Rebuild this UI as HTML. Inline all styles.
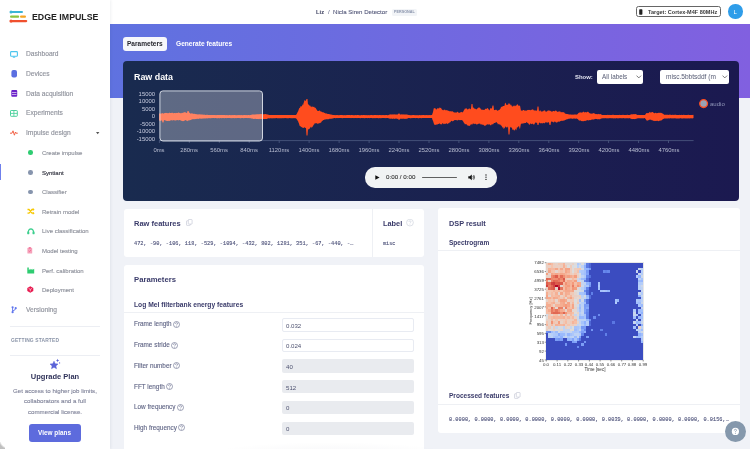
<!DOCTYPE html>
<html><head><meta charset="utf-8">
<style>
*{margin:0;padding:0;box-sizing:border-box}
html,body{width:750px;height:449px;overflow:hidden}
body{position:relative;background:#f0f2f7;font-family:"Liberation Sans",sans-serif;color:#333}
.a{position:absolute}
.t{position:absolute;white-space:nowrap;line-height:1;will-change:transform}
.b{font-weight:bold}
.m{font-family:"Liberation Mono",monospace;-webkit-text-stroke:0.12px #50557c}
#side{left:0;top:0;width:110px;height:449px;background:#fff;box-shadow:0.5px 0 2.5px rgba(40,50,90,0.07);z-index:1}
.nav{font-size:6.65px;color:#90939d;left:26.3px;-webkit-text-stroke:0.15px #90939d}
.sub{font-size:6px;color:#90939d;left:42px;-webkit-text-stroke:0.15px #90939d}
.card{position:absolute;background:#fff;border-radius:3px}
.ttl{font-size:7.5px;color:#3a3b6a;font-weight:bold}
.lbl{font-size:6.38px;color:#5d6283;left:133.9px;-webkit-text-stroke:0.1px #5d6283}
.inp{position:absolute;left:281.8px;width:132.5px;height:13.4px;border-radius:2px;background:#e9ebef}
.inp.w{background:#fff;border:0.7px solid #e8ebf2}
.inp span{position:absolute;left:3.7px;top:3.6px;font-size:5.6px;line-height:1;color:#4a4e66;white-space:nowrap}
.yl{font-size:5.9px;color:#c9cde0;width:30px;text-align:right;left:125px}
.xl{font-size:5.9px;color:#b9bed2;width:40px;text-align:center}
</style></head><body>

<!-- SIDEBAR -->
<div id="side" class="a">
  <svg class="a" style="left:9px;top:10px" width="20" height="14" viewBox="0 0 20 14">
    <rect x="1.5" y="1" width="12.5" height="2" rx="1" fill="#3ab4d6"/>
    <circle cx="2" cy="2" r="1.5" fill="#3ab4d6"/>
    <rect x="1" y="5.6" width="9.2" height="2.2" rx="1.1" fill="#8cc43f"/>
    <rect x="11" y="5.6" width="6" height="2.2" rx="1.1" fill="#f5a623"/>
    <rect x="1.5" y="10" width="16.8" height="2.2" rx="1.1" fill="#f0502e"/>
    <circle cx="2" cy="11.1" r="1.6" fill="#f0502e"/>
  </svg>
  <div class="t b" style="left:32px;top:13px;font-size:8.8px;color:#222">EDGE IMPULSE</div>

  <!-- nav icons -->
  <svg class="a" style="left:10px;top:50.5px" width="8" height="7" viewBox="0 0 8 7"><rect x="0.6" y="0.6" width="6.8" height="4.6" rx="0.8" fill="none" stroke="#4cc5ee" stroke-width="1.1"/><rect x="2.8" y="5.5" width="2.4" height="1.2" fill="#4cc5ee"/></svg>
  <div class="t nav" style="top:51px">Dashboard</div>
  <svg class="a" style="left:11.3px;top:69.7px" width="7" height="8" viewBox="0 0 7 8"><rect x="0.4" y="0" width="5.6" height="7.4" rx="2" fill="#5b6fe1"/></svg>
  <div class="t nav" style="top:71px">Devices</div>
  <svg class="a" style="left:11.3px;top:89.7px" width="7" height="8" viewBox="0 0 7 8"><rect x="0.3" y="0" width="5.9" height="6.8" rx="1" fill="#6b21c9"/><rect x="1" y="2.2" width="4.5" height="0.6" fill="#fff"/><rect x="1" y="4.2" width="4.5" height="0.6" fill="#fff"/></svg>
  <div class="t nav" style="top:91px">Data acquisition</div>
  <svg class="a" style="left:10px;top:109.6px" width="8" height="7" viewBox="0 0 8 7"><rect x="0.5" y="0.5" width="6.8" height="5.8" rx="0.6" fill="none" stroke="#4fd19e" stroke-width="1"/><line x1="3.9" y1="0.5" x2="3.9" y2="6.3" stroke="#4fd19e" stroke-width="0.9"/><line x1="0.5" y1="3.4" x2="7.3" y2="3.4" stroke="#4fd19e" stroke-width="0.9"/></svg>
  <div class="t nav" style="top:110px">Experiments</div>
  <svg class="a" style="left:10px;top:130px" width="8" height="6" viewBox="0 0 8 6"><polyline points="0,3.2 2,3.2 3,0.8 4.4,5.2 5.5,2 6,3.2 7.8,3.2" fill="none" stroke="#f0573a" stroke-width="0.9"/></svg>
  <div class="t nav" style="top:130px">Impulse design</div>
  <svg class="a" style="left:95.5px;top:131.6px" width="4" height="3" viewBox="0 0 4 3"><polygon points="0,0 3.4,0 1.7,2.2" fill="#555"/></svg>

  <!-- sub items -->
  <div class="a" style="left:28px;top:150.1px;width:4.6px;height:4.6px;border-radius:50%;background:#2ecc71"></div>
  <div class="t sub" style="top:150px">Create impulse</div>
  <div class="a" style="left:0;top:164px;width:1.2px;height:16px;background:#6f80ec"></div>
  <div class="a" style="left:28px;top:170px;width:4.6px;height:4.6px;border-radius:50%;background:#8694ad"></div>
  <div class="t sub" style="top:170px;color:#3d3e4a;-webkit-text-stroke:0.2px #3d3e4a">Syntiant</div>
  <div class="a" style="left:28px;top:189.5px;width:4.6px;height:4.6px;border-radius:50%;background:#8694ad"></div>
  <div class="t sub" style="top:189px">Classifier</div>
  <svg class="a" style="left:26.6px;top:208px" width="8" height="7" viewBox="0 0 8 7"><path d="M0.5 1.5 H2 L5 5.2 H6.6 M0.5 5.2 H2 L5 1.5 H6.6" fill="none" stroke="#f7c800" stroke-width="1.3"/><polygon points="5.8,0 7.6,1.5 5.8,3" fill="#f7c800"/><polygon points="5.8,3.7 7.6,5.2 5.8,6.7" fill="#f7c800"/></svg>
  <div class="t sub" style="top:209px">Retrain model</div>
  <svg class="a" style="left:26.6px;top:227.8px" width="8" height="7" viewBox="0 0 8 7"><path d="M1.2 4 Q1.6 1 3.9 0.9 Q6.2 1 6.6 4" fill="none" stroke="#3ccf8e" stroke-width="1.1"/><rect x="0.2" y="3.6" width="2.1" height="2.6" rx="0.4" fill="#3ccf8e"/><rect x="5.5" y="3.6" width="2.1" height="2.6" rx="0.4" fill="#3ccf8e"/></svg>
  <div class="t sub" style="top:228px">Live classification</div>
  <svg class="a" style="left:26.5px;top:247px" width="6" height="7" viewBox="0 0 6 7"><rect x="0.4" y="0.8" width="4.8" height="5.8" rx="0.6" fill="#f6a3bb"/><rect x="1.7" y="0.2" width="2.2" height="1.2" rx="0.3" fill="#ef5d8a"/><path d="M1.6 3.8 L2.5 4.7 L4.1 2.9" fill="none" stroke="#ef4f7f" stroke-width="0.6"/></svg>
  <div class="t sub" style="top:248px">Model testing</div>
  <svg class="a" style="left:26.8px;top:267px" width="8" height="7" viewBox="0 0 8 7"><path d="M0.3 6.6 V0.6 H1.8 V3 L3.6 1.8 V3 L5.4 1.8 V3 L7.2 1.8 V6.6 Z" fill="#2ecc71"/></svg>
  <div class="t sub" style="top:268px">Perf. calibration</div>
  <svg class="a" style="left:26.6px;top:286.4px" width="7" height="7" viewBox="0 0 7 7"><polygon points="3.3,0.2 6.3,1.9 6.3,5.1 3.3,6.8 0.3,5.1 0.3,1.9" fill="#e8194f"/><path d="M1.6 2.4 L3.3 3.4 L5 2.4 M3.3 3.4 V5.4" fill="none" stroke="#fff" stroke-width="0.6"/></svg>
  <div class="t sub" style="top:287px">Deployment</div>
  <svg class="a" style="left:10.5px;top:305.6px" width="7" height="8" viewBox="0 0 7 8"><circle cx="1.6" cy="1.3" r="1.1" fill="#6278ee"/><circle cx="1.6" cy="6.2" r="1.1" fill="#6278ee"/><circle cx="4.7" cy="2.2" r="1.1" fill="#6278ee"/><path d="M1.6 1.3 V6.2 M4.7 2.2 Q4.6 4.2 1.6 5" fill="none" stroke="#6278ee" stroke-width="0.95"/></svg>
  <div class="t nav" style="top:307px">Versioning</div>

  <div class="a" style="left:10px;top:326px;width:90px;height:0.7px;background:#eceef3"></div>
  <div class="t b" style="left:10.6px;top:339px;font-size:4.9px;color:#8a94a8;letter-spacing:0.15px">GETTING STARTED</div>
  <div class="a" style="left:10px;top:354.7px;width:90px;height:0.7px;background:#eceef3"></div>
  <svg class="a" style="left:48.5px;top:358px" width="12" height="12" viewBox="0 0 12 12"><polygon points="5,3.2 6.2,5.8 9,6 6.9,7.9 7.5,10.7 5,9.3 2.5,10.7 3.1,7.9 1,6 3.8,5.8" fill="#5b63d8" stroke="#5b63d8" stroke-width="0.5" stroke-linejoin="round"/><path d="M8.6 0.8 L9.1 2 L10.3 2.5 L9.1 3 L8.6 4.2 L8.1 3 L6.9 2.5 L8.1 2 Z" fill="#5b63d8"/><circle cx="10.6" cy="4.9" r="0.6" fill="#5b63d8"/></svg>
  <div class="t b" style="left:0;width:110px;text-align:center;top:373px;font-size:7.5px;color:#30335a">Upgrade Plan</div>
  <div class="t" style="left:0;width:110px;text-align:center;top:388px;font-size:6.17px;color:#80849a;-webkit-text-stroke:0.12px #80849a">Get access to higher job limits,</div>
  <div class="t" style="left:0;width:110px;text-align:center;top:398px;font-size:6.17px;color:#80849a;-webkit-text-stroke:0.12px #80849a">collaborators and a full</div>
  <div class="t" style="left:0;width:110px;text-align:center;top:409px;font-size:6.17px;color:#80849a;-webkit-text-stroke:0.12px #80849a">commercial license.</div>
  <div class="a" style="left:29.3px;top:423.6px;width:51.3px;height:18.5px;border-radius:3px;background:#5d6bdd"></div>
  <div class="t b" style="left:29.3px;width:51.1px;text-align:center;top:430px;font-size:6.4px;color:#fff">View plans</div>
</div>

<!-- HEADER -->
<div class="a" style="left:110px;top:0;width:640px;height:24px;background:#fff"></div>
<div class="t b" style="left:316px;top:10px;font-size:5.8px;color:#3b3e5e">Liz</div>
<div class="t" style="left:327.8px;top:9px;font-size:6px;color:#55597a">/</div>
<div class="t" style="left:333.3px;top:9px;font-size:6.1px;color:#55597a;-webkit-text-stroke:0.1px #55597a">Nicla Siren Detector</div>
<div class="a" style="left:391.9px;top:8.7px;width:25.1px;height:7.3px;background:#f2f4f7;border-radius:1.5px"></div>
<div class="t b" style="left:394px;top:11px;font-size:3.72px;color:#8993ab">PERSONAL</div>
<div class="a" style="left:635.6px;top:5.8px;width:85.8px;height:11.7px;border:0.7px solid #666;border-radius:2.5px;background:#fff"></div>
<svg class="a" style="left:639.4px;top:8.8px" width="4" height="6" viewBox="0 0 4 6"><rect x="0.2" y="0.3" width="3.2" height="5.4" rx="0.6" fill="#222"/></svg>
<div class="t b" style="left:648px;top:10px;font-size:5.53px;color:#3a3a3a">Target: Cortex-M4F 80MHz</div>
<div class="a" style="left:728.4px;top:4.3px;width:14.4px;height:14.4px;border-radius:50%;background:#2f9de9"></div>
<div class="t" style="left:728.4px;width:14.4px;text-align:center;top:9px;font-size:6px;color:#fff">L</div>

<!-- BAND -->
<div class="a" style="left:110px;top:24px;width:640px;height:74px;background:linear-gradient(90deg,#5f72e0,#8160e0)"></div>
<div class="a" style="left:122.9px;top:36.9px;width:44px;height:13.9px;border-radius:3px;background:#f6f7fb"></div>
<div class="t b" style="left:127px;top:41px;font-size:6.55px;color:#25262e">Parameters</div>
<div class="t b" style="left:175.7px;top:41px;font-size:6.6px;color:#fff">Generate features</div>

<!-- RAW DATA CARD -->
<div class="a" style="left:123px;top:61px;width:616px;height:140px;border-radius:4px;background:linear-gradient(90deg,#192b4f,#1b1950)"></div>
<div class="t b" style="left:134px;top:73px;font-size:8.9px;color:#fff">Raw data</div>
<div class="t b" style="left:575.1px;top:75px;font-size:5.93px;color:#e2e4f0">Show:</div>
<div class="a" style="left:596.7px;top:70.4px;width:46.1px;height:13.2px;border-radius:2px;background:#fff"></div>
<div class="t" style="left:602px;top:74px;font-size:6.3px;color:#555a72">All labels</div>
<svg class="a" style="left:635.5px;top:75px" width="6" height="4" viewBox="0 0 6 4"><polyline points="0.5,0.6 2.8,2.9 5.1,0.6" fill="none" stroke="#444" stroke-width="0.7"/></svg>
<div class="a" style="left:660.3px;top:70.4px;width:68.4px;height:13.2px;border-radius:2px;background:#fff"></div>
<div class="t" style="left:665.6px;top:74px;font-size:6.55px;color:#555a72">misc.5bbtsddf (m</div>
<svg class="a" style="left:721.5px;top:75px" width="6" height="4" viewBox="0 0 6 4"><polyline points="0.5,0.6 2.8,2.9 5.1,0.6" fill="none" stroke="#444" stroke-width="0.7"/></svg>

<!-- chart -->
<svg class="a" style="left:0;top:0" width="750" height="449" viewBox="0 0 750 449">
<line x1="159" y1="140.6" x2="693.6" y2="140.6" stroke="#56648a" stroke-width="0.7"/>
<line x1="159.4" y1="140.6" x2="159.4" y2="143" stroke="#56648a" stroke-width="0.7"/>
<line x1="189.3" y1="140.6" x2="189.3" y2="143" stroke="#56648a" stroke-width="0.7"/>
<line x1="219.3" y1="140.6" x2="219.3" y2="143" stroke="#56648a" stroke-width="0.7"/>
<line x1="249.2" y1="140.6" x2="249.2" y2="143" stroke="#56648a" stroke-width="0.7"/>
<line x1="279.2" y1="140.6" x2="279.2" y2="143" stroke="#56648a" stroke-width="0.7"/>
<line x1="309.1" y1="140.6" x2="309.1" y2="143" stroke="#56648a" stroke-width="0.7"/>
<line x1="339.1" y1="140.6" x2="339.1" y2="143" stroke="#56648a" stroke-width="0.7"/>
<line x1="369.1" y1="140.6" x2="369.1" y2="143" stroke="#56648a" stroke-width="0.7"/>
<line x1="399.0" y1="140.6" x2="399.0" y2="143" stroke="#56648a" stroke-width="0.7"/>
<line x1="429.0" y1="140.6" x2="429.0" y2="143" stroke="#56648a" stroke-width="0.7"/>
<line x1="458.9" y1="140.6" x2="458.9" y2="143" stroke="#56648a" stroke-width="0.7"/>
<line x1="488.9" y1="140.6" x2="488.9" y2="143" stroke="#56648a" stroke-width="0.7"/>
<line x1="518.8" y1="140.6" x2="518.8" y2="143" stroke="#56648a" stroke-width="0.7"/>
<line x1="548.8" y1="140.6" x2="548.8" y2="143" stroke="#56648a" stroke-width="0.7"/>
<line x1="578.7" y1="140.6" x2="578.7" y2="143" stroke="#56648a" stroke-width="0.7"/>
<line x1="608.6" y1="140.6" x2="608.6" y2="143" stroke="#56648a" stroke-width="0.7"/>
<line x1="638.6" y1="140.6" x2="638.6" y2="143" stroke="#56648a" stroke-width="0.7"/>
<line x1="668.5" y1="140.6" x2="668.5" y2="143" stroke="#56648a" stroke-width="0.7"/>
<path d="M159.0 113.3 L159.5 113.5 L160.0 113.7 L160.5 113.5 L161.0 113.6 L161.5 113.4 L162.0 113.3 L162.5 113.3 L163.0 113.1 L163.5 113.7 L164.0 113.6 L164.5 113.0 L165.0 113.1 L165.5 112.9 L166.0 112.8 L166.5 112.9 L167.0 112.9 L167.5 113.2 L168.0 113.1 L168.5 113.3 L169.0 113.1 L169.5 112.6 L170.0 112.9 L170.5 113.0 L171.0 113.0 L171.5 112.7 L172.0 112.9 L172.5 112.5 L173.0 113.2 L173.5 113.3 L174.0 112.9 L174.5 112.9 L175.0 113.0 L175.5 113.3 L176.0 112.8 L176.5 112.9 L177.0 113.0 L177.5 112.9 L178.0 112.7 L178.5 112.2 L179.0 113.0 L179.5 112.8 L180.0 113.3 L180.5 113.0 L181.0 113.4 L181.5 113.1 L182.0 112.8 L182.5 113.0 L183.0 112.7 L183.5 112.6 L184.0 112.5 L184.5 112.3 L185.0 112.1 L185.5 112.6 L186.0 112.5 L186.5 113.1 L187.0 112.9 L187.5 111.0 L188.0 111.0 L188.5 111.0 L189.0 112.1 L189.5 112.9 L190.0 113.1 L190.5 113.7 L191.0 113.4 L191.5 113.5 L192.0 113.0 L192.5 113.7 L193.0 113.6 L193.5 113.9 L194.0 113.8 L194.5 113.8 L195.0 113.9 L195.5 114.0 L196.0 114.2 L196.5 114.1 L197.0 114.4 L197.5 114.3 L198.0 114.5 L198.5 114.3 L199.0 114.6 L199.5 114.3 L200.0 114.3 L200.5 114.5 L201.0 114.5 L201.5 114.6 L202.0 114.6 L202.5 114.6 L203.0 114.8 L203.5 114.7 L204.0 114.6 L204.5 114.7 L205.0 114.8 L205.5 114.9 L206.0 114.9 L206.5 114.8 L207.0 114.8 L207.5 114.8 L208.0 114.9 L208.5 114.9 L209.0 114.9 L209.5 114.9 L210.0 115.0 L210.5 115.1 L211.0 115.0 L211.5 114.9 L212.0 115.0 L212.5 115.1 L213.0 115.0 L213.5 114.9 L214.0 115.0 L214.5 115.0 L215.0 115.1 L215.5 115.0 L216.0 115.2 L216.5 115.1 L217.0 115.0 L217.5 115.1 L218.0 115.1 L218.5 115.0 L219.0 115.0 L219.5 115.0 L220.0 115.1 L220.5 115.0 L221.0 115.0 L221.5 114.9 L222.0 115.1 L222.5 115.1 L223.0 115.0 L223.5 115.0 L224.0 115.0 L224.5 115.0 L225.0 115.1 L225.5 115.2 L226.0 115.0 L226.5 115.1 L227.0 115.2 L227.5 115.0 L228.0 115.2 L228.5 115.2 L229.0 115.1 L229.5 115.1 L230.0 115.0 L230.5 115.2 L231.0 115.1 L231.5 115.2 L232.0 115.0 L232.5 115.1 L233.0 115.2 L233.5 115.1 L234.0 115.0 L234.5 115.0 L235.0 115.1 L235.5 115.2 L236.0 115.1 L236.5 115.2 L237.0 115.2 L237.5 115.0 L238.0 115.2 L238.5 115.1 L239.0 115.0 L239.5 115.1 L240.0 115.2 L240.5 115.0 L241.0 115.2 L241.5 115.0 L242.0 115.0 L242.5 115.2 L243.0 115.2 L243.5 115.1 L244.0 115.1 L244.5 115.1 L245.0 115.1 L245.5 115.0 L246.0 115.2 L246.5 115.0 L247.0 115.0 L247.5 115.2 L248.0 115.1 L248.5 115.1 L249.0 115.0 L249.5 115.2 L250.0 115.1 L250.5 115.0 L251.0 114.9 L251.5 114.7 L252.0 114.6 L252.5 114.5 L253.0 114.5 L253.5 114.5 L254.0 114.5 L254.5 114.5 L255.0 114.4 L255.5 114.5 L256.0 114.2 L256.5 114.2 L257.0 114.4 L257.5 114.3 L258.0 114.1 L258.5 114.4 L259.0 114.0 L259.5 114.3 L260.0 114.3 L260.5 114.0 L261.0 114.1 L261.5 114.1 L262.0 114.3 L262.5 114.0 L263.0 114.2 L263.5 114.3 L264.0 114.2 L264.5 114.2 L265.0 113.9 L265.5 114.0 L266.0 114.3 L266.5 114.3 L267.0 114.4 L267.5 114.5 L268.0 114.5 L268.5 114.7 L269.0 115.1 L269.5 114.9 L270.0 115.1 L270.5 114.9 L271.0 115.0 L271.5 115.0 L272.0 115.0 L272.5 115.0 L273.0 114.9 L273.5 115.1 L274.0 115.1 L274.5 114.9 L275.0 114.9 L275.5 115.0 L276.0 114.9 L276.5 114.9 L277.0 115.0 L277.5 114.9 L278.0 115.0 L278.5 115.0 L279.0 115.0 L279.5 114.9 L280.0 115.0 L280.5 115.1 L281.0 114.9 L281.5 115.1 L282.0 114.9 L282.5 115.1 L283.0 114.9 L283.5 115.1 L284.0 114.9 L284.5 115.1 L285.0 115.1 L285.5 115.0 L286.0 115.0 L286.5 114.9 L287.0 115.1 L287.5 115.1 L288.0 114.9 L288.5 114.9 L289.0 115.1 L289.5 115.1 L290.0 115.0 L290.5 115.0 L291.0 115.0 L291.5 115.0 L292.0 115.1 L292.5 115.0 L293.0 114.9 L293.5 115.0 L294.0 115.0 L294.5 115.0 L295.0 115.0 L295.5 114.9 L296.0 115.0 L296.5 114.3 L297.0 113.5 L297.5 112.2 L298.0 111.5 L298.5 110.2 L299.0 108.8 L299.5 107.8 L300.0 107.9 L300.5 106.3 L301.0 106.2 L301.5 106.6 L302.0 106.0 L302.5 103.9 L303.0 105.4 L303.5 103.3 L304.0 102.1 L304.5 99.9 L305.0 100.6 L305.5 101.0 L306.0 100.2 L306.5 99.1 L307.0 99.1 L307.5 99.1 L308.0 104.5 L308.5 104.2 L309.0 105.0 L309.5 105.9 L310.0 105.0 L310.5 106.6 L311.0 106.5 L311.5 107.2 L312.0 106.1 L312.5 106.7 L313.0 107.1 L313.5 107.0 L314.0 106.5 L314.5 107.5 L315.0 107.7 L315.5 107.8 L316.0 108.4 L316.5 109.6 L317.0 110.0 L317.5 110.9 L318.0 111.0 L318.5 110.9 L319.0 110.7 L319.5 110.4 L320.0 110.5 L320.5 111.7 L321.0 111.1 L321.5 112.0 L322.0 111.7 L322.5 112.4 L323.0 112.0 L323.5 112.6 L324.0 112.6 L324.5 112.9 L325.0 112.9 L325.5 113.6 L326.0 113.4 L326.5 113.6 L327.0 113.6 L327.5 114.0 L328.0 113.9 L328.5 114.0 L329.0 114.1 L329.5 114.3 L330.0 114.3 L330.5 114.4 L331.0 114.5 L331.5 114.6 L332.0 114.9 L332.5 114.8 L333.0 114.9 L333.5 115.0 L334.0 115.0 L334.5 115.1 L335.0 115.2 L335.5 115.1 L336.0 115.2 L336.5 115.1 L337.0 115.0 L337.5 115.1 L338.0 115.2 L338.5 115.2 L339.0 115.1 L339.5 115.2 L340.0 115.1 L340.5 115.0 L341.0 115.0 L341.5 115.1 L342.0 115.1 L342.5 115.1 L343.0 115.2 L343.5 115.2 L344.0 115.1 L344.5 115.2 L345.0 115.0 L345.5 115.2 L346.0 115.2 L346.5 115.0 L347.0 115.1 L347.5 115.0 L348.0 115.1 L348.5 115.1 L349.0 115.1 L349.5 115.1 L350.0 115.1 L350.5 115.2 L351.0 115.1 L351.5 115.1 L352.0 115.0 L352.5 115.1 L353.0 115.2 L353.5 115.2 L354.0 115.1 L354.5 115.2 L355.0 115.2 L355.5 115.0 L356.0 115.0 L356.5 115.2 L357.0 115.1 L357.5 115.0 L358.0 115.1 L358.5 115.1 L359.0 115.2 L359.5 115.2 L360.0 115.2 L360.5 115.2 L361.0 115.2 L361.5 115.1 L362.0 115.1 L362.5 115.2 L363.0 115.1 L363.5 115.1 L364.0 115.1 L364.5 115.1 L365.0 115.2 L365.5 115.1 L366.0 115.2 L366.5 115.0 L367.0 115.2 L367.5 115.2 L368.0 115.1 L368.5 115.2 L369.0 115.1 L369.5 115.2 L370.0 115.2 L370.5 115.1 L371.0 115.1 L371.5 115.0 L372.0 115.1 L372.5 115.2 L373.0 115.1 L373.5 115.2 L374.0 115.0 L374.5 115.1 L375.0 115.1 L375.5 115.1 L376.0 115.1 L376.5 115.0 L377.0 115.2 L377.5 115.1 L378.0 115.0 L378.5 115.2 L379.0 115.0 L379.5 115.1 L380.0 115.0 L380.5 115.1 L381.0 115.2 L381.5 115.1 L382.0 115.2 L382.5 115.0 L383.0 115.1 L383.5 115.1 L384.0 115.2 L384.5 115.1 L385.0 115.2 L385.5 115.1 L386.0 115.1 L386.5 115.0 L387.0 115.1 L387.5 115.2 L388.0 115.2 L388.5 115.0 L389.0 114.8 L389.5 114.7 L390.0 114.3 L390.5 114.6 L391.0 114.4 L391.5 114.4 L392.0 114.5 L392.5 114.6 L393.0 114.3 L393.5 114.4 L394.0 114.4 L394.5 114.3 L395.0 114.4 L395.5 114.6 L396.0 114.6 L396.5 114.6 L397.0 114.5 L397.5 114.5 L398.0 114.3 L398.5 113.4 L399.0 113.4 L399.5 113.4 L400.0 114.4 L400.5 114.4 L401.0 114.5 L401.5 114.3 L402.0 114.6 L402.5 114.6 L403.0 114.3 L403.5 114.4 L404.0 114.4 L404.5 114.4 L405.0 114.6 L405.5 114.4 L406.0 114.4 L406.5 114.4 L407.0 114.6 L407.5 114.7 L408.0 114.8 L408.5 115.0 L409.0 115.1 L409.5 115.1 L410.0 115.2 L410.5 115.2 L411.0 115.0 L411.5 115.2 L412.0 115.2 L412.5 115.0 L413.0 115.1 L413.5 115.0 L414.0 115.1 L414.5 115.2 L415.0 115.1 L415.5 115.2 L416.0 115.2 L416.5 115.2 L417.0 115.0 L417.5 115.2 L418.0 115.2 L418.5 115.2 L419.0 115.2 L419.5 115.1 L420.0 115.1 L420.5 115.2 L421.0 115.2 L421.5 115.0 L422.0 115.2 L422.5 115.0 L423.0 115.1 L423.5 115.0 L424.0 115.0 L424.5 115.2 L425.0 115.0 L425.5 115.2 L426.0 115.0 L426.5 115.1 L427.0 115.2 L427.5 115.1 L428.0 115.2 L428.5 115.1 L429.0 115.2 L429.5 115.1 L430.0 115.0 L430.5 115.2 L431.0 115.1 L431.5 115.1 L432.0 115.0 L432.5 113.5 L433.0 112.0 L433.5 109.6 L434.0 107.7 L434.5 108.6 L435.0 108.1 L435.5 108.5 L436.0 109.5 L436.5 109.2 L437.0 109.3 L437.5 107.9 L438.0 108.3 L438.5 108.2 L439.0 108.7 L439.5 107.2 L440.0 108.0 L440.5 108.0 L441.0 107.4 L441.5 109.1 L442.0 109.4 L442.5 110.2 L443.0 109.4 L443.5 110.4 L444.0 109.8 L444.5 109.7 L445.0 109.5 L445.5 110.5 L446.0 110.0 L446.5 110.3 L447.0 110.2 L447.5 110.3 L448.0 111.1 L448.5 110.8 L449.0 110.8 L449.5 111.4 L450.0 111.1 L450.5 111.5 L451.0 111.1 L451.5 111.6 L452.0 111.5 L452.5 111.3 L453.0 111.4 L453.5 112.4 L454.0 111.8 L454.5 112.7 L455.0 112.4 L455.5 112.4 L456.0 112.4 L456.5 112.7 L457.0 111.8 L457.5 111.8 L458.0 112.2 L458.5 112.5 L459.0 113.0 L459.5 112.7 L460.0 112.5 L460.5 112.2 L461.0 112.2 L461.5 111.7 L462.0 112.2 L462.5 112.4 L463.0 111.7 L463.5 111.3 L464.0 109.9 L464.5 109.5 L465.0 108.2 L465.5 108.4 L466.0 109.0 L466.5 108.1 L467.0 108.8 L467.5 109.5 L468.0 109.4 L468.5 108.7 L469.0 108.7 L469.5 108.4 L470.0 108.5 L470.5 109.4 L471.0 108.6 L471.5 104.1 L472.0 104.1 L472.5 104.1 L473.0 108.4 L473.5 107.1 L474.0 108.4 L474.5 108.2 L475.0 109.2 L475.5 108.4 L476.0 109.6 L476.5 109.3 L477.0 109.0 L477.5 108.2 L478.0 107.9 L478.5 107.4 L479.0 107.6 L479.5 107.6 L480.0 107.9 L480.5 108.5 L481.0 109.4 L481.5 109.7 L482.0 109.5 L482.5 109.8 L483.0 110.0 L483.5 109.7 L484.0 110.1 L484.5 110.1 L485.0 109.0 L485.5 108.8 L486.0 108.7 L486.5 108.9 L487.0 108.3 L487.5 107.9 L488.0 108.6 L488.5 109.0 L489.0 110.2 L489.5 110.2 L490.0 109.0 L490.5 107.9 L491.0 108.4 L491.5 108.4 L492.0 108.0 L492.5 105.6 L493.0 105.6 L493.5 105.6 L494.0 110.2 L494.5 110.1 L495.0 110.1 L495.5 109.6 L496.0 110.2 L496.5 109.5 L497.0 110.4 L497.5 110.9 L498.0 110.1 L498.5 110.5 L499.0 109.9 L499.5 109.9 L500.0 108.8 L500.5 108.7 L501.0 106.8 L501.5 107.3 L502.0 106.3 L502.5 106.7 L503.0 105.9 L503.5 106.0 L504.0 106.0 L504.5 105.8 L505.0 102.9 L505.5 102.8 L506.0 103.9 L506.5 105.0 L507.0 105.0 L507.5 104.4 L508.0 104.9 L508.5 102.8 L509.0 104.5 L509.5 103.5 L510.0 103.4 L510.5 105.4 L511.0 104.6 L511.5 105.5 L512.0 106.6 L512.5 106.7 L513.0 105.6 L513.5 105.8 L514.0 106.6 L514.5 105.5 L515.0 105.8 L515.5 106.3 L516.0 104.9 L516.5 105.8 L517.0 104.3 L517.5 104.3 L518.0 105.0 L518.5 105.9 L519.0 105.3 L519.5 106.0 L520.0 105.4 L520.5 108.2 L521.0 110.8 L521.5 110.3 L522.0 111.0 L522.5 110.5 L523.0 110.1 L523.5 110.0 L524.0 110.0 L524.5 110.6 L525.0 110.9 L525.5 110.3 L526.0 110.8 L526.5 110.8 L527.0 109.9 L527.5 110.3 L528.0 109.7 L528.5 110.1 L529.0 109.9 L529.5 109.9 L530.0 109.8 L530.5 110.2 L531.0 110.2 L531.5 109.6 L532.0 110.0 L532.5 109.3 L533.0 109.2 L533.5 110.0 L534.0 110.6 L534.5 110.4 L535.0 110.2 L535.5 110.4 L536.0 110.7 L536.5 110.5 L537.0 110.8 L537.5 106.6 L538.0 106.6 L538.5 106.6 L539.0 111.5 L539.5 111.1 L540.0 110.2 L540.5 110.4 L541.0 111.4 L541.5 111.7 L542.0 111.1 L542.5 111.5 L543.0 111.4 L543.5 110.7 L544.0 110.5 L544.5 110.6 L545.0 110.3 L545.5 111.5 L546.0 111.7 L546.5 111.4 L547.0 111.6 L547.5 110.8 L548.0 110.4 L548.5 110.4 L549.0 110.6 L549.5 110.8 L550.0 110.4 L550.5 111.2 L551.0 110.7 L551.5 111.7 L552.0 111.8 L552.5 111.6 L553.0 111.0 L553.5 111.0 L554.0 110.9 L554.5 111.4 L555.0 110.7 L555.5 110.6 L556.0 110.7 L556.5 110.7 L557.0 111.7 L557.5 111.7 L558.0 111.7 L558.5 111.6 L559.0 111.4 L559.5 111.6 L560.0 111.2 L560.5 111.8 L561.0 112.4 L561.5 112.1 L562.0 112.2 L562.5 112.1 L563.0 112.5 L563.5 112.3 L564.0 112.1 L564.5 113.0 L565.0 113.5 L565.5 113.7 L566.0 113.8 L566.5 114.1 L567.0 114.0 L567.5 114.0 L568.0 114.3 L568.5 114.3 L569.0 114.5 L569.5 114.6 L570.0 114.6 L570.5 114.6 L571.0 114.6 L571.5 114.7 L572.0 114.4 L572.5 114.7 L573.0 114.4 L573.5 114.7 L574.0 114.6 L574.5 114.6 L575.0 114.4 L575.5 114.5 L576.0 114.5 L576.5 114.6 L577.0 114.7 L577.5 113.9 L578.0 113.7 L578.5 112.8 L579.0 112.9 L579.5 112.3 L580.0 112.7 L580.5 112.2 L581.0 112.6 L581.5 112.6 L582.0 112.8 L582.5 112.3 L583.0 111.9 L583.5 111.6 L584.0 112.1 L584.5 112.5 L585.0 112.2 L585.5 112.1 L586.0 112.2 L586.5 112.4 L587.0 112.1 L587.5 111.8 L588.0 111.7 L588.5 112.0 L589.0 112.7 L589.5 113.1 L590.0 113.4 L590.5 113.4 L591.0 113.4 L591.5 113.7 L592.0 113.4 L592.5 113.5 L593.0 113.5 L593.5 113.1 L594.0 113.3 L594.5 113.4 L595.0 113.7 L595.5 114.0 L596.0 114.2 L596.5 113.9 L597.0 114.1 L597.5 114.2 L598.0 114.2 L598.5 113.8 L599.0 114.2 L599.5 114.2 L600.0 113.9 L600.5 114.1 L601.0 114.5 L601.5 114.5 L602.0 115.0 L602.5 115.0 L603.0 114.9 L603.5 114.9 L604.0 115.0 L604.5 115.0 L605.0 114.9 L605.5 115.0 L606.0 115.0 L606.5 114.9 L607.0 114.9 L607.5 114.8 L608.0 115.0 L608.5 115.0 L609.0 114.8 L609.5 114.9 L610.0 114.9 L610.5 115.0 L611.0 115.1 L611.5 115.0 L612.0 114.9 L612.5 114.8 L613.0 114.8 L613.5 114.8 L614.0 115.0 L614.5 115.0 L615.0 114.9 L615.5 115.0 L616.0 114.9 L616.5 114.9 L617.0 114.9 L617.5 114.9 L618.0 115.0 L618.5 114.9 L619.0 115.0 L619.5 114.8 L620.0 115.0 L620.5 115.0 L621.0 115.0 L621.5 115.0 L622.0 115.0 L622.5 114.8 L623.0 114.9 L623.5 114.8 L624.0 115.0 L624.5 114.9 L625.0 114.9 L625.5 115.0 L626.0 114.9 L626.5 114.9 L627.0 114.8 L627.5 114.8 L628.0 115.0 L628.5 115.0 L629.0 114.9 L629.5 115.0 L630.0 114.9 L630.5 114.6 L631.0 114.4 L631.5 114.3 L632.0 114.2 L632.5 114.4 L633.0 114.1 L633.5 114.3 L634.0 114.3 L634.5 114.2 L635.0 114.0 L635.5 114.2 L636.0 114.0 L636.5 114.5 L637.0 115.0 L637.5 114.9 L638.0 114.8 L638.5 115.0 L639.0 114.9 L639.5 114.9 L640.0 114.9 L640.5 115.1 L641.0 115.0 L641.5 114.9 L642.0 115.0 L642.5 115.0 L643.0 115.1 L643.5 114.9 L644.0 114.9 L644.5 115.0 L645.0 115.0 L645.5 114.3 L646.0 113.6 L646.5 113.0 L647.0 113.2 L647.5 113.0 L648.0 113.3 L648.5 112.9 L649.0 112.8 L649.5 111.8 L650.0 112.4 L650.5 112.6 L651.0 112.2 L651.5 112.4 L652.0 112.1 L652.5 112.0 L653.0 112.3 L653.5 112.8 L654.0 113.0 L654.5 113.2 L655.0 113.3 L655.5 112.8 L656.0 112.8 L656.5 113.3 L657.0 113.2 L657.5 112.9 L658.0 113.0 L658.5 112.7 L659.0 112.7 L659.5 112.7 L660.0 113.0 L660.5 112.8 L661.0 112.8 L661.5 113.1 L662.0 113.2 L662.5 113.6 L663.0 113.7 L663.5 114.1 L664.0 114.7 L664.5 114.7 L665.0 114.7 L665.5 114.7 L666.0 114.7 L666.5 114.7 L667.0 114.7 L667.5 114.8 L668.0 114.8 L668.5 114.9 L669.0 114.8 L669.5 114.7 L670.0 114.6 L670.5 114.7 L671.0 114.9 L671.5 114.9 L672.0 114.8 L672.5 114.7 L673.0 114.9 L673.5 114.7 L674.0 114.9 L674.5 114.7 L675.0 114.7 L675.5 114.8 L676.0 114.7 L676.5 114.9 L677.0 114.9 L677.5 115.0 L678.0 114.9 L678.5 115.0 L679.0 114.9 L679.5 114.7 L680.0 114.9 L680.5 114.9 L681.0 114.9 L681.5 114.8 L682.0 114.9 L682.5 114.9 L683.0 115.0 L683.5 114.8 L684.0 114.8 L684.5 114.9 L685.0 114.9 L685.5 115.0 L686.0 114.9 L686.5 114.9 L687.0 115.0 L687.5 114.9 L688.0 114.8 L688.5 114.8 L689.0 115.0 L689.5 115.0 L690.0 115.0 L690.5 115.0 L691.0 115.0 L691.5 114.9 L692.0 115.0 L692.5 114.9 L693.0 114.8 L693.5 115.0 L693.5 118.3 L693.0 118.1 L692.5 118.4 L692.0 118.4 L691.5 118.2 L691.0 118.2 L690.5 118.3 L690.0 118.4 L689.5 118.4 L689.0 118.2 L688.5 118.4 L688.0 118.2 L687.5 118.4 L687.0 118.4 L686.5 118.4 L686.0 118.3 L685.5 118.4 L685.0 118.4 L684.5 118.3 L684.0 118.4 L683.5 118.3 L683.0 118.4 L682.5 118.4 L682.0 118.5 L681.5 118.4 L681.0 118.3 L680.5 118.3 L680.0 118.3 L679.5 118.4 L679.0 118.5 L678.5 118.4 L678.0 118.5 L677.5 118.4 L677.0 118.4 L676.5 118.5 L676.0 118.4 L675.5 118.3 L675.0 118.4 L674.5 118.3 L674.0 118.3 L673.5 118.5 L673.0 118.3 L672.5 118.4 L672.0 118.3 L671.5 118.4 L671.0 118.3 L670.5 118.3 L670.0 118.3 L669.5 118.4 L669.0 118.5 L668.5 118.3 L668.0 118.6 L667.5 118.4 L667.0 118.6 L666.5 118.4 L666.0 118.5 L665.5 118.4 L665.0 118.4 L664.5 118.5 L664.0 118.5 L663.5 119.0 L663.0 119.0 L662.5 119.5 L662.0 119.9 L661.5 120.4 L661.0 120.2 L660.5 120.8 L660.0 120.6 L659.5 120.8 L659.0 121.1 L658.5 121.2 L658.0 120.9 L657.5 120.7 L657.0 120.7 L656.5 121.0 L656.0 120.7 L655.5 121.1 L655.0 121.0 L654.5 120.7 L654.0 121.3 L653.5 120.4 L653.0 120.9 L652.5 120.1 L652.0 120.5 L651.5 119.9 L651.0 119.8 L650.5 119.8 L650.0 119.6 L649.5 119.8 L649.0 120.0 L648.5 120.2 L648.0 120.2 L647.5 120.7 L647.0 120.5 L646.5 120.5 L646.0 119.5 L645.5 118.9 L645.0 118.2 L644.5 118.1 L644.0 118.2 L643.5 118.3 L643.0 118.4 L642.5 118.2 L642.0 118.2 L641.5 118.2 L641.0 118.4 L640.5 118.2 L640.0 118.2 L639.5 118.2 L639.0 118.3 L638.5 118.3 L638.0 118.3 L637.5 118.4 L637.0 118.2 L636.5 118.7 L636.0 119.1 L635.5 119.1 L635.0 118.8 L634.5 119.2 L634.0 119.0 L633.5 119.0 L633.0 118.9 L632.5 118.9 L632.0 119.2 L631.5 118.8 L631.0 119.0 L630.5 118.6 L630.0 118.3 L629.5 118.2 L629.0 118.1 L628.5 118.4 L628.0 118.2 L627.5 118.3 L627.0 118.2 L626.5 118.2 L626.0 118.2 L625.5 118.4 L625.0 118.1 L624.5 118.4 L624.0 118.2 L623.5 118.1 L623.0 118.3 L622.5 118.3 L622.0 118.2 L621.5 118.3 L621.0 118.3 L620.5 118.3 L620.0 118.1 L619.5 118.3 L619.0 118.3 L618.5 118.2 L618.0 118.4 L617.5 118.3 L617.0 118.2 L616.5 118.1 L616.0 118.4 L615.5 118.2 L615.0 118.4 L614.5 118.3 L614.0 118.3 L613.5 118.4 L613.0 118.3 L612.5 118.3 L612.0 118.2 L611.5 118.2 L611.0 118.3 L610.5 118.2 L610.0 118.1 L609.5 118.2 L609.0 118.3 L608.5 118.2 L608.0 118.4 L607.5 118.3 L607.0 118.2 L606.5 118.3 L606.0 118.4 L605.5 118.1 L605.0 118.2 L604.5 118.3 L604.0 118.3 L603.5 118.3 L603.0 118.2 L602.5 118.2 L602.0 118.4 L601.5 118.5 L601.0 118.6 L600.5 118.9 L600.0 119.2 L599.5 119.2 L599.0 119.3 L598.5 119.3 L598.0 119.1 L597.5 119.5 L597.0 119.1 L596.5 119.1 L596.0 119.0 L595.5 118.9 L595.0 118.8 L594.5 119.2 L594.0 119.4 L593.5 119.5 L593.0 119.5 L592.5 119.4 L592.0 119.6 L591.5 119.8 L591.0 119.7 L590.5 120.2 L590.0 120.0 L589.5 120.0 L589.0 120.4 L588.5 120.3 L588.0 120.6 L587.5 120.1 L587.0 120.3 L586.5 120.3 L586.0 121.2 L585.5 120.7 L585.0 120.8 L584.5 120.9 L584.0 120.9 L583.5 121.2 L583.0 121.2 L582.5 121.2 L582.0 120.8 L581.5 121.3 L581.0 120.9 L580.5 120.5 L580.0 120.3 L579.5 120.7 L579.0 120.6 L578.5 120.1 L578.0 119.3 L577.5 119.1 L577.0 118.7 L576.5 118.5 L576.0 118.6 L575.5 118.8 L575.0 118.7 L574.5 118.5 L574.0 118.5 L573.5 118.6 L573.0 118.7 L572.5 118.7 L572.0 118.7 L571.5 118.5 L571.0 118.5 L570.5 118.6 L570.0 118.5 L569.5 118.8 L569.0 118.7 L568.5 118.8 L568.0 118.9 L567.5 119.2 L567.0 119.2 L566.5 119.4 L566.0 119.5 L565.5 120.0 L565.0 120.1 L564.5 120.6 L564.0 120.5 L563.5 120.7 L563.0 120.6 L562.5 121.1 L562.0 120.8 L561.5 120.8 L561.0 120.9 L560.5 120.9 L560.0 121.4 L559.5 121.4 L559.0 121.9 L558.5 121.4 L558.0 121.6 L557.5 122.2 L557.0 122.6 L556.5 122.5 L556.0 122.6 L555.5 122.0 L555.0 121.4 L554.5 121.4 L554.0 122.5 L553.5 122.4 L553.0 121.7 L552.5 122.1 L552.0 121.6 L551.5 121.4 L551.0 122.0 L550.5 124.9 L550.0 124.9 L549.5 124.9 L549.0 122.4 L548.5 122.1 L548.0 122.7 L547.5 122.4 L547.0 122.5 L546.5 122.6 L546.0 122.3 L545.5 122.2 L545.0 123.1 L544.5 123.4 L544.0 122.7 L543.5 123.1 L543.0 123.2 L542.5 123.6 L542.0 123.1 L541.5 123.4 L541.0 122.8 L540.5 123.5 L540.0 123.3 L539.5 122.6 L539.0 122.8 L538.5 124.9 L538.0 124.9 L537.5 124.9 L537.0 122.4 L536.5 122.7 L536.0 123.1 L535.5 122.3 L535.0 123.1 L534.5 124.1 L534.0 124.8 L533.5 124.4 L533.0 123.7 L532.5 123.7 L532.0 123.7 L531.5 124.2 L531.0 123.7 L530.5 123.6 L530.0 123.8 L529.5 124.9 L529.0 124.5 L528.5 123.8 L528.0 122.7 L527.5 123.3 L527.0 122.2 L526.5 122.1 L526.0 123.0 L525.5 122.9 L525.0 122.9 L524.5 123.2 L524.0 123.1 L523.5 123.7 L523.0 123.0 L522.5 123.8 L522.0 123.7 L521.5 123.8 L521.0 123.5 L520.5 125.9 L520.0 128.9 L519.5 128.2 L519.0 126.0 L518.5 126.3 L518.0 127.4 L517.5 127.4 L517.0 127.1 L516.5 129.5 L516.0 130.5 L515.5 128.4 L515.0 129.8 L514.5 130.6 L514.0 130.5 L513.5 129.4 L513.0 129.4 L512.5 130.1 L512.0 128.0 L511.5 127.6 L511.0 127.4 L510.5 126.7 L510.0 128.3 L509.5 134.6 L509.0 134.6 L508.5 134.6 L508.0 126.4 L507.5 126.9 L507.0 128.1 L506.5 127.3 L506.0 127.1 L505.5 126.3 L505.0 127.8 L504.5 127.7 L504.0 129.0 L503.5 128.6 L503.0 126.5 L502.5 127.9 L502.0 126.7 L501.5 125.5 L501.0 125.7 L500.5 124.8 L500.0 124.4 L499.5 124.4 L499.0 124.3 L498.5 123.7 L498.0 124.8 L497.5 123.2 L497.0 122.8 L496.5 122.1 L496.0 122.5 L495.5 122.4 L495.0 122.9 L494.5 122.9 L494.0 123.1 L493.5 123.7 L493.0 124.5 L492.5 124.3 L492.0 124.2 L491.5 124.6 L491.0 125.4 L490.5 125.2 L490.0 124.7 L489.5 123.9 L489.0 125.1 L488.5 124.1 L488.0 125.0 L487.5 124.2 L487.0 124.1 L486.5 125.2 L486.0 125.0 L485.5 125.4 L485.0 126.2 L484.5 125.4 L484.0 125.5 L483.5 124.8 L483.0 124.8 L482.5 124.5 L482.0 124.9 L481.5 124.0 L481.0 124.7 L480.5 124.2 L480.0 123.4 L479.5 123.4 L479.0 124.1 L478.5 123.6 L478.0 124.2 L477.5 124.1 L477.0 124.8 L476.5 124.4 L476.0 123.7 L475.5 124.0 L475.0 123.4 L474.5 124.2 L474.0 123.8 L473.5 123.8 L473.0 123.2 L472.5 124.2 L472.0 124.8 L471.5 124.3 L471.0 124.2 L470.5 124.8 L470.0 125.7 L469.5 126.0 L469.0 125.5 L468.5 125.8 L468.0 125.8 L467.5 125.5 L467.0 124.8 L466.5 124.2 L466.0 124.3 L465.5 124.1 L465.0 124.6 L464.5 123.5 L464.0 122.8 L463.5 122.3 L463.0 120.9 L462.5 120.6 L462.0 120.3 L461.5 120.0 L461.0 120.1 L460.5 119.9 L460.0 120.4 L459.5 119.9 L459.0 119.9 L458.5 119.8 L458.0 120.4 L457.5 120.3 L457.0 120.5 L456.5 120.0 L456.0 120.3 L455.5 119.9 L455.0 120.0 L454.5 120.1 L454.0 120.7 L453.5 120.7 L453.0 121.2 L452.5 121.3 L452.0 121.3 L451.5 120.7 L451.0 121.1 L450.5 122.2 L450.0 122.3 L449.5 122.6 L449.0 123.6 L448.5 123.0 L448.0 123.7 L447.5 124.2 L447.0 123.3 L446.5 123.3 L446.0 123.9 L445.5 123.4 L445.0 124.3 L444.5 123.5 L444.0 124.2 L443.5 124.1 L443.0 123.2 L442.5 122.9 L442.0 124.5 L441.5 124.1 L441.0 124.8 L440.5 123.9 L440.0 123.9 L439.5 123.2 L439.0 123.8 L438.5 123.9 L438.0 124.0 L437.5 124.6 L437.0 124.6 L436.5 124.6 L436.0 124.7 L435.5 124.9 L435.0 124.4 L434.5 125.1 L434.0 124.1 L433.5 122.6 L433.0 120.8 L432.5 119.9 L432.0 118.0 L431.5 118.0 L431.0 118.1 L430.5 118.0 L430.0 118.1 L429.5 118.1 L429.0 118.0 L428.5 118.1 L428.0 118.0 L427.5 118.0 L427.0 118.1 L426.5 118.0 L426.0 118.0 L425.5 118.1 L425.0 118.1 L424.5 118.0 L424.0 118.0 L423.5 118.0 L423.0 118.0 L422.5 118.0 L422.0 118.0 L421.5 118.2 L421.0 118.2 L420.5 118.0 L420.0 118.0 L419.5 118.0 L419.0 118.2 L418.5 118.2 L418.0 118.2 L417.5 118.1 L417.0 118.0 L416.5 118.0 L416.0 118.1 L415.5 118.2 L415.0 118.1 L414.5 118.0 L414.0 118.0 L413.5 118.1 L413.0 118.0 L412.5 118.1 L412.0 118.2 L411.5 118.1 L411.0 118.2 L410.5 118.2 L410.0 118.2 L409.5 118.0 L409.0 118.0 L408.5 118.1 L408.0 118.3 L407.5 118.4 L407.0 118.7 L406.5 118.8 L406.0 118.7 L405.5 118.9 L405.0 118.6 L404.5 118.9 L404.0 118.8 L403.5 118.6 L403.0 118.9 L402.5 118.7 L402.0 118.6 L401.5 118.9 L401.0 118.6 L400.5 118.7 L400.0 118.9 L399.5 119.8 L399.0 119.8 L398.5 119.8 L398.0 118.6 L397.5 118.9 L397.0 118.9 L396.5 118.6 L396.0 118.6 L395.5 118.6 L395.0 118.9 L394.5 118.8 L394.0 118.7 L393.5 118.6 L393.0 118.7 L392.5 118.9 L392.0 118.6 L391.5 118.7 L391.0 118.6 L390.5 118.8 L390.0 118.7 L389.5 118.4 L389.0 118.4 L388.5 118.3 L388.0 118.1 L387.5 118.0 L387.0 118.1 L386.5 118.1 L386.0 118.2 L385.5 118.0 L385.0 118.2 L384.5 118.1 L384.0 118.1 L383.5 118.0 L383.0 118.1 L382.5 118.0 L382.0 118.1 L381.5 118.2 L381.0 118.0 L380.5 118.2 L380.0 118.2 L379.5 118.0 L379.0 118.2 L378.5 118.2 L378.0 118.2 L377.5 118.1 L377.0 118.0 L376.5 118.0 L376.0 118.2 L375.5 118.1 L375.0 118.2 L374.5 118.0 L374.0 118.2 L373.5 118.1 L373.0 118.2 L372.5 118.2 L372.0 118.0 L371.5 118.1 L371.0 118.1 L370.5 118.1 L370.0 118.1 L369.5 118.2 L369.0 118.1 L368.5 118.1 L368.0 118.0 L367.5 118.2 L367.0 118.1 L366.5 118.0 L366.0 118.1 L365.5 118.0 L365.0 118.2 L364.5 118.2 L364.0 118.1 L363.5 118.0 L363.0 118.2 L362.5 118.1 L362.0 118.0 L361.5 118.0 L361.0 118.0 L360.5 118.2 L360.0 118.2 L359.5 118.1 L359.0 118.0 L358.5 118.0 L358.0 118.0 L357.5 118.1 L357.0 118.2 L356.5 118.1 L356.0 118.1 L355.5 118.1 L355.0 118.0 L354.5 118.1 L354.0 118.2 L353.5 118.1 L353.0 118.1 L352.5 118.0 L352.0 118.1 L351.5 118.0 L351.0 118.2 L350.5 118.0 L350.0 118.0 L349.5 118.1 L349.0 118.0 L348.5 118.1 L348.0 118.1 L347.5 118.1 L347.0 118.1 L346.5 118.1 L346.0 118.0 L345.5 118.0 L345.0 118.1 L344.5 118.1 L344.0 118.1 L343.5 118.1 L343.0 118.0 L342.5 118.2 L342.0 118.2 L341.5 118.0 L341.0 118.1 L340.5 118.0 L340.0 118.1 L339.5 118.1 L339.0 118.1 L338.5 118.1 L338.0 118.2 L337.5 118.1 L337.0 118.0 L336.5 118.1 L336.0 118.2 L335.5 118.2 L335.0 118.1 L334.5 118.1 L334.0 118.0 L333.5 118.2 L333.0 118.4 L332.5 118.4 L332.0 118.6 L331.5 118.7 L331.0 118.7 L330.5 118.7 L330.0 118.7 L329.5 118.8 L329.0 118.9 L328.5 119.2 L328.0 119.2 L327.5 119.2 L327.0 119.3 L326.5 119.3 L326.0 119.3 L325.5 119.4 L325.0 119.4 L324.5 119.4 L324.0 120.1 L323.5 119.9 L323.0 120.2 L322.5 120.9 L322.0 120.7 L321.5 121.9 L321.0 122.4 L320.5 122.8 L320.0 123.2 L319.5 122.9 L319.0 123.5 L318.5 123.5 L318.0 123.4 L317.5 124.0 L317.0 123.2 L316.5 123.2 L316.0 123.2 L315.5 123.4 L315.0 123.1 L314.5 123.7 L314.0 124.7 L313.5 124.8 L313.0 126.4 L312.5 126.5 L312.0 127.5 L311.5 127.7 L311.0 126.5 L310.5 127.6 L310.0 127.8 L309.5 129.1 L309.0 128.9 L308.5 129.7 L308.0 128.7 L307.5 135.6 L307.0 135.6 L306.5 135.6 L306.0 128.1 L305.5 127.8 L305.0 128.2 L304.5 126.9 L304.0 127.5 L303.5 128.1 L303.0 128.1 L302.5 127.5 L302.0 127.6 L301.5 126.7 L301.0 127.3 L300.5 126.0 L300.0 126.2 L299.5 125.4 L299.0 123.5 L298.5 122.4 L298.0 121.1 L297.5 120.6 L297.0 119.6 L296.5 119.0 L296.0 118.2 L295.5 118.2 L295.0 118.2 L294.5 118.3 L294.0 118.1 L293.5 118.2 L293.0 118.2 L292.5 118.2 L292.0 118.2 L291.5 118.2 L291.0 118.2 L290.5 118.3 L290.0 118.1 L289.5 118.1 L289.0 118.2 L288.5 118.2 L288.0 118.3 L287.5 118.2 L287.0 118.3 L286.5 118.3 L286.0 118.1 L285.5 118.1 L285.0 118.2 L284.5 118.1 L284.0 118.3 L283.5 118.2 L283.0 118.1 L282.5 118.2 L282.0 118.2 L281.5 118.2 L281.0 118.3 L280.5 118.3 L280.0 118.2 L279.5 118.3 L279.0 118.3 L278.5 118.2 L278.0 118.3 L277.5 118.2 L277.0 118.2 L276.5 118.1 L276.0 118.1 L275.5 118.2 L275.0 118.2 L274.5 118.3 L274.0 118.3 L273.5 118.3 L273.0 118.3 L272.5 118.2 L272.0 118.4 L271.5 118.3 L271.0 118.3 L270.5 118.3 L270.0 118.3 L269.5 118.4 L269.0 118.2 L268.5 118.3 L268.0 118.4 L267.5 118.6 L267.0 118.9 L266.5 119.1 L266.0 119.1 L265.5 119.1 L265.0 119.1 L264.5 119.0 L264.0 119.2 L263.5 119.0 L263.0 119.0 L262.5 118.9 L262.0 118.9 L261.5 119.0 L261.0 119.2 L260.5 119.1 L260.0 118.8 L259.5 118.9 L259.0 119.2 L258.5 119.1 L258.0 119.1 L257.5 119.1 L257.0 119.0 L256.5 119.0 L256.0 119.0 L255.5 118.7 L255.0 118.7 L254.5 119.0 L254.0 118.7 L253.5 119.0 L253.0 118.9 L252.5 118.6 L252.0 118.6 L251.5 118.6 L251.0 118.4 L250.5 118.3 L250.0 118.1 L249.5 118.2 L249.0 118.0 L248.5 118.0 L248.0 118.2 L247.5 118.0 L247.0 118.0 L246.5 118.0 L246.0 118.1 L245.5 118.1 L245.0 118.1 L244.5 118.0 L244.0 118.2 L243.5 118.2 L243.0 118.0 L242.5 118.0 L242.0 118.1 L241.5 118.1 L241.0 118.2 L240.5 118.2 L240.0 118.2 L239.5 118.1 L239.0 118.0 L238.5 118.1 L238.0 118.1 L237.5 118.0 L237.0 118.1 L236.5 118.2 L236.0 118.0 L235.5 118.1 L235.0 118.2 L234.5 118.2 L234.0 118.1 L233.5 118.1 L233.0 118.2 L232.5 118.1 L232.0 118.2 L231.5 118.2 L231.0 118.0 L230.5 118.2 L230.0 118.1 L229.5 118.1 L229.0 118.1 L228.5 118.1 L228.0 118.1 L227.5 118.0 L227.0 118.1 L226.5 118.2 L226.0 118.1 L225.5 118.0 L225.0 118.0 L224.5 118.2 L224.0 118.3 L223.5 118.1 L223.0 118.0 L222.5 118.1 L222.0 118.2 L221.5 118.2 L221.0 118.1 L220.5 118.1 L220.0 118.3 L219.5 118.2 L219.0 118.2 L218.5 118.1 L218.0 118.2 L217.5 118.2 L217.0 118.3 L216.5 118.3 L216.0 118.1 L215.5 118.1 L215.0 118.1 L214.5 118.3 L214.0 118.1 L213.5 118.1 L213.0 118.1 L212.5 118.1 L212.0 118.3 L211.5 118.1 L211.0 118.3 L210.5 118.3 L210.0 118.3 L209.5 118.3 L209.0 118.1 L208.5 118.2 L208.0 118.2 L207.5 118.4 L207.0 118.2 L206.5 118.2 L206.0 118.4 L205.5 118.4 L205.0 118.3 L204.5 118.4 L204.0 118.6 L203.5 118.5 L203.0 118.6 L202.5 118.6 L202.0 118.7 L201.5 118.7 L201.0 118.6 L200.5 118.7 L200.0 118.6 L199.5 118.6 L199.0 118.8 L198.5 119.0 L198.0 118.8 L197.5 118.8 L197.0 118.9 L196.5 118.8 L196.0 119.2 L195.5 119.0 L195.0 119.0 L194.5 119.3 L194.0 119.2 L193.5 119.1 L193.0 119.6 L192.5 119.0 L192.0 119.4 L191.5 119.5 L191.0 120.0 L190.5 119.9 L190.0 120.2 L189.5 120.3 L189.0 120.5 L188.5 120.5 L188.0 120.5 L187.5 121.3 L187.0 121.0 L186.5 120.7 L186.0 119.9 L185.5 120.1 L185.0 120.7 L184.5 120.5 L184.0 120.8 L183.5 121.3 L183.0 120.9 L182.5 121.2 L182.0 120.7 L181.5 121.1 L181.0 120.5 L180.5 120.5 L180.0 120.0 L179.5 120.1 L179.0 120.3 L178.5 120.3 L178.0 120.4 L177.5 120.0 L177.0 120.0 L176.5 120.4 L176.0 120.1 L175.5 120.7 L175.0 120.4 L174.5 120.3 L174.0 120.4 L173.5 120.1 L173.0 120.2 L172.5 120.6 L172.0 120.5 L171.5 120.1 L171.0 120.5 L170.5 120.3 L170.0 121.1 L169.5 120.7 L169.0 121.3 L168.5 120.8 L168.0 120.9 L167.5 121.0 L167.0 121.0 L166.5 120.8 L166.0 121.1 L165.5 120.6 L165.0 120.1 L164.5 120.2 L164.0 120.2 L163.5 122.6 L163.0 122.6 L162.5 122.6 L162.0 120.4 L161.5 120.3 L161.0 121.0 L160.5 120.7 L160.0 120.7 L159.5 120.4 L159.0 120.4Z" fill="#ff4c1e"/>
<rect x="159.9" y="90.9" width="102.6" height="50.1" rx="3" fill="rgba(255,255,255,0.3)" stroke="rgba(235,238,245,0.85)" stroke-width="1"/>
<circle cx="703.6" cy="103.6" r="3.9" fill="#99a2b4" stroke="#ff4c1e" stroke-width="1.3"/>
</svg>
<div class="t yl" style="top:92px">15000</div>
<div class="t yl" style="top:99px">10000</div>
<div class="t yl" style="top:107px">5000</div>
<div class="t yl" style="top:114px">0</div>
<div class="t yl" style="top:122px">-5000</div>
<div class="t yl" style="top:129px">-10000</div>
<div class="t yl" style="top:137px">-15000</div>
<div class="t xl" style="left:139.4px;top:148px">0ms</div>
<div class="t xl" style="left:169.3px;top:148px">280ms</div>
<div class="t xl" style="left:199.3px;top:148px">560ms</div>
<div class="t xl" style="left:229.2px;top:148px">840ms</div>
<div class="t xl" style="left:259.2px;top:148px">1120ms</div>
<div class="t xl" style="left:289.1px;top:148px">1400ms</div>
<div class="t xl" style="left:319.1px;top:148px">1680ms</div>
<div class="t xl" style="left:349.1px;top:148px">1960ms</div>
<div class="t xl" style="left:379.0px;top:148px">2240ms</div>
<div class="t xl" style="left:409.0px;top:148px">2520ms</div>
<div class="t xl" style="left:438.9px;top:148px">2800ms</div>
<div class="t xl" style="left:468.9px;top:148px">3080ms</div>
<div class="t xl" style="left:498.8px;top:148px">3360ms</div>
<div class="t xl" style="left:528.8px;top:148px">3640ms</div>
<div class="t xl" style="left:558.7px;top:148px">3920ms</div>
<div class="t xl" style="left:588.6px;top:148px">4200ms</div>
<div class="t xl" style="left:618.6px;top:148px">4480ms</div>
<div class="t xl" style="left:648.5px;top:148px">4760ms</div>
<div class="t" style="left:709.6px;top:101px;font-size:6.05px;color:#9096b8">audio</div>

<!-- audio player -->
<div class="a" style="left:365px;top:167.4px;width:132.4px;height:20.2px;border-radius:10px;background:#f1f3f4"></div>
<svg class="a" style="left:374.6px;top:175px" width="5" height="5" viewBox="0 0 5 5"><polygon points="0.3,0.2 4.6,2.45 0.3,4.7" fill="#111"/></svg>
<div class="t" style="left:386px;top:174px;font-size:6.22px;color:#333;-webkit-text-stroke:0.12px #333">0:00 / 0:00</div>
<div class="a" style="left:422.4px;top:176.6px;width:35px;height:1.6px;border-radius:1px;background:#606060"></div>
<svg class="a" style="left:468.4px;top:174.4px" width="8" height="7" viewBox="0 0 8 7"><polygon points="0.3,2.2 1.8,2.2 3.8,0.4 3.8,6.3 1.8,4.5 0.3,4.5" fill="#111"/><path d="M4.9 2 Q5.8 3.35 4.9 4.7 M5.7 1 Q7.3 3.35 5.7 5.7" fill="none" stroke="#111" stroke-width="0.7"/></svg>
<svg class="a" style="left:485px;top:174.3px" width="2" height="7" viewBox="0 0 2 7"><circle cx="1" cy="1" r="0.65" fill="#111"/><circle cx="1" cy="3.2" r="0.65" fill="#111"/><circle cx="1" cy="5.4" r="0.65" fill="#111"/></svg>

<!-- RAW FEATURES CARD -->
<div class="card" style="left:123.5px;top:208.5px;width:300.7px;height:48.5px"></div>
<div class="a" style="left:372.3px;top:208.5px;width:0.6px;height:48.5px;background:#eef0f4"></div>
<div class="t ttl" style="left:133.8px;top:220px">Raw features</div>
<svg class="a" style="left:186.2px;top:219.4px" width="7" height="7" viewBox="0 0 7 7"><rect x="0.5" y="1.8" width="3.8" height="4.6" rx="0.5" fill="none" stroke="#c8ccd8" stroke-width="0.7"/><rect x="2.3" y="0.5" width="3.8" height="4.6" rx="0.5" fill="#fff" stroke="#c8ccd8" stroke-width="0.7"/></svg>
<div class="t m" style="left:133.8px;top:242px;font-size:5.31px;color:#50557c">472, -90, -106, 118, -529, -1094, -432, 802, 1281, 351, -67, -440, -…</div>
<div class="t ttl" style="left:383.4px;top:220px;font-size:7.39px">Label</div>
<svg class="a" style="left:406.2px;top:219px" width="8" height="8" viewBox="0 0 8 8"><circle cx="3.95" cy="3.6" r="3.4" fill="none" stroke="#c8ccd8" stroke-width="0.6"/><path d="M2.9 2.9 Q2.9 1.8 3.95 1.8 Q5 1.8 5 2.75 Q5 3.35 4.35 3.65 Q3.95 3.9 3.95 4.45" fill="none" stroke="#c8ccd8" stroke-width="0.6"/><circle cx="3.95" cy="5.45" r="0.4" fill="#c8ccd8"/></svg>
<div class="t m" style="left:383.4px;top:242px;font-size:5.17px;color:#50557c">misc</div>

<!-- PARAMETERS CARD -->
<div class="card" style="left:123.5px;top:264.6px;width:300.7px;height:190px"></div>
<div class="t ttl" style="left:133.8px;top:276px;font-size:7.71px">Parameters</div>
<div class="t b" style="left:133.8px;top:302px;font-size:6.71px;color:#3a3b6a">Log Mel filterbank energy features</div>
<div class="a" style="left:123.5px;top:311.7px;width:300.7px;height:0.6px;background:#eef0f4"></div>
<div class="t lbl" style="top:321px">Frame length</div>
<svg class="a" style="left:172.9px;top:320.8px" width="7" height="7" viewBox="0 0 7 7"><circle cx="3.5" cy="3.5" r="3" fill="none" stroke="#6b7090" stroke-width="0.65"/><path d="M2.5 2.8 Q2.5 1.7 3.5 1.7 Q4.5 1.7 4.5 2.6 Q4.5 3.2 3.9 3.5 Q3.5 3.75 3.5 4.3" fill="none" stroke="#6b7090" stroke-width="0.6"/><circle cx="3.5" cy="5.25" r="0.38" fill="#6b7090"/></svg>
<div class="inp w" style="top:318.4px"></div>
<div class="t" style="left:286px;top:323px;font-size:6.1px;color:#4e5270">0.032</div>
<div class="t lbl" style="top:342px">Frame stride</div>
<svg class="a" style="left:171.1px;top:341.6px" width="7" height="7" viewBox="0 0 7 7"><circle cx="3.5" cy="3.5" r="3" fill="none" stroke="#6b7090" stroke-width="0.65"/><path d="M2.5 2.8 Q2.5 1.7 3.5 1.7 Q4.5 1.7 4.5 2.6 Q4.5 3.2 3.9 3.5 Q3.5 3.75 3.5 4.3" fill="none" stroke="#6b7090" stroke-width="0.6"/><circle cx="3.5" cy="5.25" r="0.38" fill="#6b7090"/></svg>
<div class="inp w" style="top:338.8px"></div>
<div class="t" style="left:286px;top:343px;font-size:6.1px;color:#4e5270">0.024</div>
<div class="t lbl" style="top:363px">Filter number</div>
<svg class="a" style="left:172.9px;top:362.3px" width="7" height="7" viewBox="0 0 7 7"><circle cx="3.5" cy="3.5" r="3" fill="none" stroke="#6b7090" stroke-width="0.65"/><path d="M2.5 2.8 Q2.5 1.7 3.5 1.7 Q4.5 1.7 4.5 2.6 Q4.5 3.2 3.9 3.5 Q3.5 3.75 3.5 4.3" fill="none" stroke="#6b7090" stroke-width="0.6"/><circle cx="3.5" cy="5.25" r="0.38" fill="#6b7090"/></svg>
<div class="inp" style="top:359.2px"></div>
<div class="t" style="left:286px;top:364px;font-size:6.1px;color:#4e5270">40</div>
<div class="t lbl" style="top:384px">FFT length</div>
<svg class="a" style="left:166.0px;top:383.2px" width="7" height="7" viewBox="0 0 7 7"><circle cx="3.5" cy="3.5" r="3" fill="none" stroke="#6b7090" stroke-width="0.65"/><path d="M2.5 2.8 Q2.5 1.7 3.5 1.7 Q4.5 1.7 4.5 2.6 Q4.5 3.2 3.9 3.5 Q3.5 3.75 3.5 4.3" fill="none" stroke="#6b7090" stroke-width="0.6"/><circle cx="3.5" cy="5.25" r="0.38" fill="#6b7090"/></svg>
<div class="inp" style="top:380px"></div>
<div class="t" style="left:286px;top:385px;font-size:6.1px;color:#4e5270">512</div>
<div class="t lbl" style="top:404px">Low frequency</div>
<svg class="a" style="left:176.8px;top:403.5px" width="7" height="7" viewBox="0 0 7 7"><circle cx="3.5" cy="3.5" r="3" fill="none" stroke="#6b7090" stroke-width="0.65"/><path d="M2.5 2.8 Q2.5 1.7 3.5 1.7 Q4.5 1.7 4.5 2.6 Q4.5 3.2 3.9 3.5 Q3.5 3.75 3.5 4.3" fill="none" stroke="#6b7090" stroke-width="0.6"/><circle cx="3.5" cy="5.25" r="0.38" fill="#6b7090"/></svg>
<div class="inp" style="top:400.7px"></div>
<div class="t" style="left:286px;top:405px;font-size:6.1px;color:#4e5270">0</div>
<div class="t lbl" style="top:425px">High frequency</div>
<svg class="a" style="left:178.2px;top:424.4px" width="7" height="7" viewBox="0 0 7 7"><circle cx="3.5" cy="3.5" r="3" fill="none" stroke="#6b7090" stroke-width="0.65"/><path d="M2.5 2.8 Q2.5 1.7 3.5 1.7 Q4.5 1.7 4.5 2.6 Q4.5 3.2 3.9 3.5 Q3.5 3.75 3.5 4.3" fill="none" stroke="#6b7090" stroke-width="0.6"/><circle cx="3.5" cy="5.25" r="0.38" fill="#6b7090"/></svg>
<div class="inp" style="top:421.5px"></div>
<div class="t" style="left:286px;top:426px;font-size:6.1px;color:#4e5270">0</div>

<div class="a" style="left:180px;top:436px;width:260px;height:20px;background:radial-gradient(ellipse 130px 14px at 150px 20px,rgba(20,30,70,0.045),rgba(20,30,70,0))"></div>
<!-- DSP CARD -->
<div class="card" style="left:438px;top:208.3px;width:302px;height:224.7px"></div>
<div class="t ttl" style="left:448.8px;top:220px;font-size:7.3px">DSP result</div>
<div class="t b" style="left:448.8px;top:240px;font-size:6.52px;color:#3a3b6a">Spectrogram</div>
<div class="a" style="left:438px;top:249.7px;width:302px;height:0.6px;background:#eef0f4"></div>
<svg class="a" style="left:0;top:0" width="750" height="449" viewBox="0 0 750 449">
<rect x="546.0" y="262.4" width="97.5" height="97.8" fill="none" stroke="#d8d8d8" stroke-width="0.6"/>
<line x1="544.7" y1="262.7" x2="546.3" y2="262.7" stroke="#333" stroke-width="0.5"/>
<line x1="544.7" y1="271.5" x2="546.3" y2="271.5" stroke="#333" stroke-width="0.5"/>
<line x1="544.7" y1="280.4" x2="546.3" y2="280.4" stroke="#333" stroke-width="0.5"/>
<line x1="544.7" y1="289.2" x2="546.3" y2="289.2" stroke="#333" stroke-width="0.5"/>
<line x1="544.7" y1="298.0" x2="546.3" y2="298.0" stroke="#333" stroke-width="0.5"/>
<line x1="544.7" y1="306.9" x2="546.3" y2="306.9" stroke="#333" stroke-width="0.5"/>
<line x1="544.7" y1="315.7" x2="546.3" y2="315.7" stroke="#333" stroke-width="0.5"/>
<line x1="544.7" y1="324.6" x2="546.3" y2="324.6" stroke="#333" stroke-width="0.5"/>
<line x1="544.7" y1="333.4" x2="546.3" y2="333.4" stroke="#333" stroke-width="0.5"/>
<line x1="544.7" y1="342.2" x2="546.3" y2="342.2" stroke="#333" stroke-width="0.5"/>
<line x1="544.7" y1="351.1" x2="546.3" y2="351.1" stroke="#333" stroke-width="0.5"/>
<line x1="544.7" y1="359.9" x2="546.3" y2="359.9" stroke="#333" stroke-width="0.5"/>
<line x1="546.3" y1="359.9" x2="546.3" y2="361.5" stroke="#333" stroke-width="0.5"/>
<line x1="557.1" y1="359.9" x2="557.1" y2="361.5" stroke="#333" stroke-width="0.5"/>
<line x1="567.8" y1="359.9" x2="567.8" y2="361.5" stroke="#333" stroke-width="0.5"/>
<line x1="578.6" y1="359.9" x2="578.6" y2="361.5" stroke="#333" stroke-width="0.5"/>
<line x1="589.4" y1="359.9" x2="589.4" y2="361.5" stroke="#333" stroke-width="0.5"/>
<line x1="600.1" y1="359.9" x2="600.1" y2="361.5" stroke="#333" stroke-width="0.5"/>
<line x1="610.9" y1="359.9" x2="610.9" y2="361.5" stroke="#333" stroke-width="0.5"/>
<line x1="621.7" y1="359.9" x2="621.7" y2="361.5" stroke="#333" stroke-width="0.5"/>
<line x1="632.4" y1="359.9" x2="632.4" y2="361.5" stroke="#333" stroke-width="0.5"/>
<line x1="643.2" y1="359.9" x2="643.2" y2="361.5" stroke="#333" stroke-width="0.5"/>
</svg>
<svg class="a" style="left:546.3px;top:262.7px;filter:blur(0.3px)" width="96.9" height="97.2" viewBox="0 0 41 40" preserveAspectRatio="none" shape-rendering="crispEdges">
<rect x="0" y="0" width="41" height="40" fill="#3b4cc0"/>
<rect x="0" y="0" width="1" height="1" fill="#eecbbb"/>
<rect x="1" y="0" width="1" height="1" fill="#f4ae93"/>
<rect x="2" y="0" width="1" height="1" fill="#f5bca3"/>
<rect x="3" y="0" width="1" height="1" fill="#edcdbd"/>
<rect x="4" y="0" width="1" height="1" fill="#e8d1c6"/>
<rect x="5" y="0" width="1" height="1" fill="#f1c8b4"/>
<rect x="6" y="0" width="1" height="1" fill="#f1c8b5"/>
<rect x="7" y="0" width="1" height="1" fill="#f5b59c"/>
<rect x="8" y="0" width="1" height="1" fill="#e3d6d0"/>
<rect x="9" y="0" width="1" height="1" fill="#e4d6cf"/>
<rect x="10" y="0" width="1" height="1" fill="#e2d8d3"/>
<rect x="11" y="0" width="1" height="1" fill="#e8d1c7"/>
<rect x="12" y="0" width="1" height="1" fill="#dedbda"/>
<rect x="13" y="0" width="1" height="1" fill="#aec8fa"/>
<rect x="14" y="0" width="1" height="1" fill="#bcd2f6"/>
<rect x="15" y="0" width="1" height="1" fill="#dedcdc"/>
<rect x="16" y="0" width="1" height="1" fill="#aec9fa"/>
<rect x="17" y="0" width="1" height="1" fill="#5e7ce5"/>
<rect x="18" y="0" width="1" height="1" fill="#4e66d4"/>
<rect x="0" y="1" width="1" height="1" fill="#e9d0c4"/>
<rect x="1" y="1" width="1" height="1" fill="#eacfc3"/>
<rect x="2" y="1" width="1" height="1" fill="#f5c3ac"/>
<rect x="3" y="1" width="1" height="1" fill="#eccec0"/>
<rect x="4" y="1" width="1" height="1" fill="#eacfc3"/>
<rect x="5" y="1" width="1" height="1" fill="#ead0c4"/>
<rect x="6" y="1" width="1" height="1" fill="#eccdbe"/>
<rect x="7" y="1" width="1" height="1" fill="#f5b095"/>
<rect x="8" y="1" width="1" height="1" fill="#efcab9"/>
<rect x="9" y="1" width="1" height="1" fill="#dddddd"/>
<rect x="10" y="1" width="1" height="1" fill="#eecbbb"/>
<rect x="11" y="1" width="1" height="1" fill="#d8dbe1"/>
<rect x="12" y="1" width="1" height="1" fill="#dddddd"/>
<rect x="13" y="1" width="1" height="1" fill="#b8d0f9"/>
<rect x="14" y="1" width="1" height="1" fill="#d4dae4"/>
<rect x="15" y="1" width="1" height="1" fill="#bcd1f6"/>
<rect x="16" y="1" width="1" height="1" fill="#92b3fd"/>
<rect x="17" y="1" width="1" height="1" fill="#5b79e3"/>
<rect x="18" y="1" width="1" height="1" fill="#4e66d4"/>
<rect x="0" y="2" width="1" height="1" fill="#e8d2c8"/>
<rect x="1" y="2" width="1" height="1" fill="#f5b399"/>
<rect x="2" y="2" width="1" height="1" fill="#f5baa2"/>
<rect x="3" y="2" width="1" height="1" fill="#f5b9a0"/>
<rect x="4" y="2" width="1" height="1" fill="#f4a78a"/>
<rect x="5" y="2" width="1" height="1" fill="#f2c7b2"/>
<rect x="6" y="2" width="1" height="1" fill="#f4a98d"/>
<rect x="7" y="2" width="1" height="1" fill="#f3c6b0"/>
<rect x="8" y="2" width="1" height="1" fill="#f4a486"/>
<rect x="9" y="2" width="1" height="1" fill="#f4a386"/>
<rect x="10" y="2" width="1" height="1" fill="#edccbd"/>
<rect x="11" y="2" width="1" height="1" fill="#e0dad7"/>
<rect x="12" y="2" width="1" height="1" fill="#eccdbf"/>
<rect x="13" y="2" width="1" height="1" fill="#f0c9b7"/>
<rect x="14" y="2" width="1" height="1" fill="#f3c6b1"/>
<rect x="15" y="2" width="1" height="1" fill="#d3dae4"/>
<rect x="16" y="2" width="1" height="1" fill="#98b8fd"/>
<rect x="17" y="2" width="1" height="1" fill="#91b3fe"/>
<rect x="18" y="2" width="1" height="1" fill="#789af4"/>
<rect x="39" y="2" width="1" height="1" fill="#c9d6ec"/>
<rect x="40" y="2" width="1" height="1" fill="#b4cdfa"/>
<rect x="0" y="3" width="1" height="1" fill="#e3d6d0"/>
<rect x="1" y="3" width="1" height="1" fill="#f4a88b"/>
<rect x="2" y="3" width="1" height="1" fill="#f5c3ab"/>
<rect x="3" y="3" width="1" height="1" fill="#f4c5af"/>
<rect x="4" y="3" width="1" height="1" fill="#e4d6cf"/>
<rect x="5" y="3" width="1" height="1" fill="#f0c9b7"/>
<rect x="6" y="3" width="1" height="1" fill="#f5bea6"/>
<rect x="7" y="3" width="1" height="1" fill="#f2c7b3"/>
<rect x="8" y="3" width="1" height="1" fill="#f4a689"/>
<rect x="9" y="3" width="1" height="1" fill="#f5b196"/>
<rect x="10" y="3" width="1" height="1" fill="#edcdbe"/>
<rect x="11" y="3" width="1" height="1" fill="#dedcdb"/>
<rect x="12" y="3" width="1" height="1" fill="#ebcec0"/>
<rect x="13" y="3" width="1" height="1" fill="#f5c1a9"/>
<rect x="14" y="3" width="1" height="1" fill="#b4cdf9"/>
<rect x="15" y="3" width="1" height="1" fill="#aec8fa"/>
<rect x="16" y="3" width="1" height="1" fill="#a4c1fb"/>
<rect x="17" y="3" width="1" height="1" fill="#799af5"/>
<rect x="24" y="3" width="1" height="1" fill="#6788ec"/>
<rect x="25" y="3" width="1" height="1" fill="#6080e8"/>
<rect x="26" y="3" width="1" height="1" fill="#6788ec"/>
<rect x="38" y="3" width="1" height="1" fill="#c9d6ec"/>
<rect x="40" y="3" width="1" height="1" fill="#b6cff9"/>
<rect x="0" y="4" width="1" height="1" fill="#f4a183"/>
<rect x="1" y="4" width="1" height="1" fill="#e7d2c9"/>
<rect x="2" y="4" width="1" height="1" fill="#f4a589"/>
<rect x="3" y="4" width="1" height="1" fill="#f4af94"/>
<rect x="4" y="4" width="1" height="1" fill="#f4a588"/>
<rect x="5" y="4" width="1" height="1" fill="#f5b095"/>
<rect x="6" y="4" width="1" height="1" fill="#f4a78a"/>
<rect x="7" y="4" width="1" height="1" fill="#f4ab8f"/>
<rect x="8" y="4" width="1" height="1" fill="#f5b59b"/>
<rect x="9" y="4" width="1" height="1" fill="#f5bea6"/>
<rect x="10" y="4" width="1" height="1" fill="#edccbc"/>
<rect x="11" y="4" width="1" height="1" fill="#e8d1c7"/>
<rect x="12" y="4" width="1" height="1" fill="#f5c4ae"/>
<rect x="13" y="4" width="1" height="1" fill="#e7d2c8"/>
<rect x="14" y="4" width="1" height="1" fill="#dbdcdf"/>
<rect x="15" y="4" width="1" height="1" fill="#aac6fb"/>
<rect x="16" y="4" width="1" height="1" fill="#a1bffc"/>
<rect x="17" y="4" width="1" height="1" fill="#80a2f8"/>
<rect x="39" y="4" width="1" height="1" fill="#c8d6ed"/>
<rect x="40" y="4" width="1" height="1" fill="#b4cdf9"/>
<rect x="0" y="5" width="1" height="1" fill="#e9d0c4"/>
<rect x="1" y="5" width="1" height="1" fill="#e8d2c7"/>
<rect x="2" y="5" width="1" height="1" fill="#ee8b6f"/>
<rect x="3" y="5" width="1" height="1" fill="#e87a61"/>
<rect x="4" y="5" width="1" height="1" fill="#dd5d4c"/>
<rect x="5" y="5" width="1" height="1" fill="#f4997a"/>
<rect x="6" y="5" width="1" height="1" fill="#e36e58"/>
<rect x="7" y="5" width="1" height="1" fill="#f08f72"/>
<rect x="8" y="5" width="1" height="1" fill="#f4aa8e"/>
<rect x="9" y="5" width="1" height="1" fill="#f49f81"/>
<rect x="10" y="5" width="1" height="1" fill="#f4aa8e"/>
<rect x="11" y="5" width="1" height="1" fill="#f5b59b"/>
<rect x="12" y="5" width="1" height="1" fill="#f49e80"/>
<rect x="13" y="5" width="1" height="1" fill="#eacfc3"/>
<rect x="14" y="5" width="1" height="1" fill="#d7dbe2"/>
<rect x="15" y="5" width="1" height="1" fill="#bed2f5"/>
<rect x="16" y="5" width="1" height="1" fill="#aec9fa"/>
<rect x="17" y="5" width="1" height="1" fill="#6586ec"/>
<rect x="18" y="5" width="1" height="1" fill="#546fdb"/>
<rect x="38" y="5" width="1" height="1" fill="#b3ccfa"/>
<rect x="39" y="5" width="1" height="1" fill="#8fb2fe"/>
<rect x="40" y="5" width="1" height="1" fill="#cdd8e9"/>
<rect x="0" y="6" width="1" height="1" fill="#df6450"/>
<rect x="1" y="6" width="1" height="1" fill="#e26c56"/>
<rect x="2" y="6" width="1" height="1" fill="#ed886d"/>
<rect x="3" y="6" width="1" height="1" fill="#f08f73"/>
<rect x="4" y="6" width="1" height="1" fill="#ef8c70"/>
<rect x="5" y="6" width="1" height="1" fill="#e5715b"/>
<rect x="6" y="6" width="1" height="1" fill="#ec866b"/>
<rect x="7" y="6" width="1" height="1" fill="#da5749"/>
<rect x="8" y="6" width="1" height="1" fill="#f4c5af"/>
<rect x="9" y="6" width="1" height="1" fill="#ebcfc1"/>
<rect x="10" y="6" width="1" height="1" fill="#e9d0c5"/>
<rect x="11" y="6" width="1" height="1" fill="#f5bba2"/>
<rect x="12" y="6" width="1" height="1" fill="#f3c6b2"/>
<rect x="13" y="6" width="1" height="1" fill="#cad6ec"/>
<rect x="14" y="6" width="1" height="1" fill="#b7cff9"/>
<rect x="15" y="6" width="1" height="1" fill="#9cbbfc"/>
<rect x="16" y="6" width="1" height="1" fill="#90b2fe"/>
<rect x="17" y="6" width="1" height="1" fill="#546fdb"/>
<rect x="39" y="6" width="1" height="1" fill="#bbd1f7"/>
<rect x="40" y="6" width="1" height="1" fill="#a7c4fb"/>
<rect x="0" y="7" width="1" height="1" fill="#f19174"/>
<rect x="1" y="7" width="1" height="1" fill="#e8d1c7"/>
<rect x="2" y="7" width="1" height="1" fill="#ec8469"/>
<rect x="3" y="7" width="1" height="1" fill="#e06651"/>
<rect x="4" y="7" width="1" height="1" fill="#e36e58"/>
<rect x="5" y="7" width="1" height="1" fill="#e87b63"/>
<rect x="6" y="7" width="1" height="1" fill="#f4997a"/>
<rect x="7" y="7" width="1" height="1" fill="#e26c56"/>
<rect x="8" y="7" width="1" height="1" fill="#f5bca4"/>
<rect x="9" y="7" width="1" height="1" fill="#f4a88c"/>
<rect x="10" y="7" width="1" height="1" fill="#f4ac91"/>
<rect x="11" y="7" width="1" height="1" fill="#f5b79d"/>
<rect x="12" y="7" width="1" height="1" fill="#f49e80"/>
<rect x="13" y="7" width="1" height="1" fill="#c7d5ee"/>
<rect x="14" y="7" width="1" height="1" fill="#d1d9e6"/>
<rect x="15" y="7" width="1" height="1" fill="#c5d5ef"/>
<rect x="16" y="7" width="1" height="1" fill="#6585eb"/>
<rect x="17" y="7" width="1" height="1" fill="#546fdb"/>
<rect x="39" y="7" width="1" height="1" fill="#9bbafc"/>
<rect x="40" y="7" width="1" height="1" fill="#97b7fd"/>
<rect x="0" y="8" width="1" height="1" fill="#dd5e4c"/>
<rect x="1" y="8" width="1" height="1" fill="#e46f59"/>
<rect x="2" y="8" width="1" height="1" fill="#d14441"/>
<rect x="3" y="8" width="1" height="1" fill="#ce3d3e"/>
<rect x="4" y="8" width="1" height="1" fill="#dc5b4b"/>
<rect x="5" y="8" width="1" height="1" fill="#d95448"/>
<rect x="6" y="8" width="1" height="1" fill="#dc5c4b"/>
<rect x="7" y="8" width="1" height="1" fill="#f5b89f"/>
<rect x="8" y="8" width="1" height="1" fill="#f19275"/>
<rect x="9" y="8" width="1" height="1" fill="#f4a98d"/>
<rect x="10" y="8" width="1" height="1" fill="#f5b399"/>
<rect x="11" y="8" width="1" height="1" fill="#f49a7b"/>
<rect x="12" y="8" width="1" height="1" fill="#f5bea6"/>
<rect x="13" y="8" width="1" height="1" fill="#f4a88c"/>
<rect x="14" y="8" width="1" height="1" fill="#f4ab90"/>
<rect x="15" y="8" width="1" height="1" fill="#c4d4f0"/>
<rect x="16" y="8" width="1" height="1" fill="#bed2f4"/>
<rect x="17" y="8" width="1" height="1" fill="#91b3fe"/>
<rect x="18" y="8" width="1" height="1" fill="#7d9ff7"/>
<rect x="22" y="8" width="1" height="1" fill="#a5c2fb"/>
<rect x="39" y="8" width="1" height="1" fill="#b1cbfa"/>
<rect x="40" y="8" width="1" height="1" fill="#b4cdf9"/>
<rect x="0" y="9" width="1" height="1" fill="#d04140"/>
<rect x="1" y="9" width="1" height="1" fill="#e97e65"/>
<rect x="2" y="9" width="1" height="1" fill="#e06652"/>
<rect x="3" y="9" width="1" height="1" fill="#d34843"/>
<rect x="4" y="9" width="1" height="1" fill="#b40426"/>
<rect x="5" y="9" width="1" height="1" fill="#ce3d3e"/>
<rect x="6" y="9" width="1" height="1" fill="#e3d6d0"/>
<rect x="7" y="9" width="1" height="1" fill="#f5b59b"/>
<rect x="8" y="9" width="1" height="1" fill="#f4a487"/>
<rect x="9" y="9" width="1" height="1" fill="#f49b7c"/>
<rect x="10" y="9" width="1" height="1" fill="#f5b49a"/>
<rect x="11" y="9" width="1" height="1" fill="#ea7f66"/>
<rect x="12" y="9" width="1" height="1" fill="#f5b99f"/>
<rect x="13" y="9" width="1" height="1" fill="#f19375"/>
<rect x="14" y="9" width="1" height="1" fill="#f4a78b"/>
<rect x="15" y="9" width="1" height="1" fill="#cdd7e9"/>
<rect x="16" y="9" width="1" height="1" fill="#aec9fa"/>
<rect x="17" y="9" width="1" height="1" fill="#acc7fa"/>
<rect x="18" y="9" width="1" height="1" fill="#7192f1"/>
<rect x="22" y="9" width="1" height="1" fill="#afcafa"/>
<rect x="39" y="9" width="1" height="1" fill="#bbd1f7"/>
<rect x="40" y="9" width="1" height="1" fill="#ccd7ea"/>
<rect x="0" y="10" width="1" height="1" fill="#eccdbf"/>
<rect x="1" y="10" width="1" height="1" fill="#e36d58"/>
<rect x="2" y="10" width="1" height="1" fill="#df634f"/>
<rect x="3" y="10" width="1" height="1" fill="#da5749"/>
<rect x="4" y="10" width="1" height="1" fill="#e7d3c9"/>
<rect x="5" y="10" width="1" height="1" fill="#b9102b"/>
<rect x="6" y="10" width="1" height="1" fill="#e6765e"/>
<rect x="7" y="10" width="1" height="1" fill="#f5bca4"/>
<rect x="8" y="10" width="1" height="1" fill="#f49c7d"/>
<rect x="9" y="10" width="1" height="1" fill="#f4ac90"/>
<rect x="10" y="10" width="1" height="1" fill="#f5b9a0"/>
<rect x="11" y="10" width="1" height="1" fill="#f29677"/>
<rect x="12" y="10" width="1" height="1" fill="#f49e7f"/>
<rect x="13" y="10" width="1" height="1" fill="#e3d7d1"/>
<rect x="14" y="10" width="1" height="1" fill="#ced8e8"/>
<rect x="15" y="10" width="1" height="1" fill="#b8d0f9"/>
<rect x="16" y="10" width="1" height="1" fill="#a1bffc"/>
<rect x="17" y="10" width="1" height="1" fill="#6282ea"/>
<rect x="22" y="10" width="1" height="1" fill="#a5c2fb"/>
<rect x="39" y="10" width="1" height="1" fill="#b8d0f9"/>
<rect x="40" y="10" width="1" height="1" fill="#c0d3f3"/>
<rect x="0" y="11" width="1" height="1" fill="#f1c8b5"/>
<rect x="1" y="11" width="1" height="1" fill="#f2c8b4"/>
<rect x="2" y="11" width="1" height="1" fill="#f5c4ad"/>
<rect x="3" y="11" width="1" height="1" fill="#f5b79d"/>
<rect x="4" y="11" width="1" height="1" fill="#f5bea6"/>
<rect x="5" y="11" width="1" height="1" fill="#f5b79d"/>
<rect x="6" y="11" width="1" height="1" fill="#f4c5af"/>
<rect x="7" y="11" width="1" height="1" fill="#f5b297"/>
<rect x="8" y="11" width="1" height="1" fill="#f4a88b"/>
<rect x="9" y="11" width="1" height="1" fill="#f4a78b"/>
<rect x="10" y="11" width="1" height="1" fill="#f4ad92"/>
<rect x="11" y="11" width="1" height="1" fill="#f4a588"/>
<rect x="12" y="11" width="1" height="1" fill="#e0dad8"/>
<rect x="13" y="11" width="1" height="1" fill="#dddddd"/>
<rect x="14" y="11" width="1" height="1" fill="#d4dae4"/>
<rect x="15" y="11" width="1" height="1" fill="#ced8e8"/>
<rect x="16" y="11" width="1" height="1" fill="#6c8def"/>
<rect x="17" y="11" width="1" height="1" fill="#546fdb"/>
<rect x="23" y="11" width="1" height="1" fill="#a5c2fb"/>
<rect x="24" y="11" width="1" height="1" fill="#acc7fa"/>
<rect x="25" y="11" width="1" height="1" fill="#a5c2fb"/>
<rect x="26" y="11" width="1" height="1" fill="#97b8fd"/>
<rect x="40" y="11" width="1" height="1" fill="#c6d5ef"/>
<rect x="0" y="12" width="1" height="1" fill="#f4ae92"/>
<rect x="1" y="12" width="1" height="1" fill="#f1c8b5"/>
<rect x="2" y="12" width="1" height="1" fill="#f5bca3"/>
<rect x="3" y="12" width="1" height="1" fill="#f2c7b4"/>
<rect x="4" y="12" width="1" height="1" fill="#f5b095"/>
<rect x="5" y="12" width="1" height="1" fill="#e3d7d1"/>
<rect x="6" y="12" width="1" height="1" fill="#f4a588"/>
<rect x="7" y="12" width="1" height="1" fill="#f1c8b4"/>
<rect x="8" y="12" width="1" height="1" fill="#f4ac91"/>
<rect x="9" y="12" width="1" height="1" fill="#f5b095"/>
<rect x="10" y="12" width="1" height="1" fill="#f0c9b7"/>
<rect x="11" y="12" width="1" height="1" fill="#efcab8"/>
<rect x="12" y="12" width="1" height="1" fill="#e5d5cd"/>
<rect x="13" y="12" width="1" height="1" fill="#dadcdf"/>
<rect x="14" y="12" width="1" height="1" fill="#a6c3fb"/>
<rect x="15" y="12" width="1" height="1" fill="#a7c4fb"/>
<rect x="16" y="12" width="1" height="1" fill="#98b8fd"/>
<rect x="17" y="12" width="1" height="1" fill="#546fdb"/>
<rect x="19" y="12" width="1" height="1" fill="#6080e8"/>
<rect x="39" y="12" width="1" height="1" fill="#c9d6ec"/>
<rect x="40" y="12" width="1" height="1" fill="#b1cbfa"/>
<rect x="0" y="13" width="1" height="1" fill="#f4a487"/>
<rect x="1" y="13" width="1" height="1" fill="#e2d8d4"/>
<rect x="2" y="13" width="1" height="1" fill="#f5baa1"/>
<rect x="3" y="13" width="1" height="1" fill="#f5c0a9"/>
<rect x="4" y="13" width="1" height="1" fill="#f5b89e"/>
<rect x="5" y="13" width="1" height="1" fill="#f5b399"/>
<rect x="6" y="13" width="1" height="1" fill="#e9d1c5"/>
<rect x="7" y="13" width="1" height="1" fill="#f3c6b1"/>
<rect x="8" y="13" width="1" height="1" fill="#f4ad92"/>
<rect x="9" y="13" width="1" height="1" fill="#f4c6b0"/>
<rect x="10" y="13" width="1" height="1" fill="#f5b89e"/>
<rect x="11" y="13" width="1" height="1" fill="#ebcec1"/>
<rect x="12" y="13" width="1" height="1" fill="#eacfc3"/>
<rect x="13" y="13" width="1" height="1" fill="#e8d1c7"/>
<rect x="14" y="13" width="1" height="1" fill="#e7d2c8"/>
<rect x="15" y="13" width="1" height="1" fill="#bad1f8"/>
<rect x="16" y="13" width="1" height="1" fill="#d3dae4"/>
<rect x="17" y="13" width="1" height="1" fill="#96b6fd"/>
<rect x="18" y="13" width="1" height="1" fill="#546fdb"/>
<rect x="39" y="13" width="1" height="1" fill="#91b3fe"/>
<rect x="40" y="13" width="1" height="1" fill="#c8d6ed"/>
<rect x="0" y="14" width="1" height="1" fill="#f4a588"/>
<rect x="1" y="14" width="1" height="1" fill="#f4ab8f"/>
<rect x="2" y="14" width="1" height="1" fill="#f5bda4"/>
<rect x="3" y="14" width="1" height="1" fill="#f4a68a"/>
<rect x="4" y="14" width="1" height="1" fill="#f4ac90"/>
<rect x="5" y="14" width="1" height="1" fill="#f5bda4"/>
<rect x="6" y="14" width="1" height="1" fill="#f0c9b7"/>
<rect x="7" y="14" width="1" height="1" fill="#f5baa1"/>
<rect x="8" y="14" width="1" height="1" fill="#e5d5cd"/>
<rect x="9" y="14" width="1" height="1" fill="#f5b298"/>
<rect x="10" y="14" width="1" height="1" fill="#f4a386"/>
<rect x="11" y="14" width="1" height="1" fill="#f5c0a8"/>
<rect x="12" y="14" width="1" height="1" fill="#e7d3ca"/>
<rect x="13" y="14" width="1" height="1" fill="#e2d8d4"/>
<rect x="14" y="14" width="1" height="1" fill="#e9d1c6"/>
<rect x="15" y="14" width="1" height="1" fill="#c4d4f0"/>
<rect x="16" y="14" width="1" height="1" fill="#c7d5ed"/>
<rect x="17" y="14" width="1" height="1" fill="#a0befc"/>
<rect x="18" y="14" width="1" height="1" fill="#546fdb"/>
<rect x="40" y="14" width="1" height="1" fill="#b6cef9"/>
<rect x="0" y="15" width="1" height="1" fill="#e8d2c7"/>
<rect x="1" y="15" width="1" height="1" fill="#f5c4ad"/>
<rect x="2" y="15" width="1" height="1" fill="#f0cab8"/>
<rect x="3" y="15" width="1" height="1" fill="#f5bea6"/>
<rect x="4" y="15" width="1" height="1" fill="#e4d6d0"/>
<rect x="5" y="15" width="1" height="1" fill="#f5b69c"/>
<rect x="6" y="15" width="1" height="1" fill="#f4a285"/>
<rect x="7" y="15" width="1" height="1" fill="#f4a183"/>
<rect x="8" y="15" width="1" height="1" fill="#f4aa8e"/>
<rect x="9" y="15" width="1" height="1" fill="#e8d2c8"/>
<rect x="10" y="15" width="1" height="1" fill="#efcab8"/>
<rect x="11" y="15" width="1" height="1" fill="#f3c7b2"/>
<rect x="12" y="15" width="1" height="1" fill="#dbdcde"/>
<rect x="13" y="15" width="1" height="1" fill="#e8d2c8"/>
<rect x="14" y="15" width="1" height="1" fill="#9ebdfc"/>
<rect x="15" y="15" width="1" height="1" fill="#d1d9e6"/>
<rect x="16" y="15" width="1" height="1" fill="#7ea0f7"/>
<rect x="17" y="15" width="1" height="1" fill="#546fdb"/>
<rect x="29" y="15" width="1" height="1" fill="#a5c2fb"/>
<rect x="30" y="15" width="1" height="1" fill="#97b8fd"/>
<rect x="38" y="15" width="1" height="1" fill="#acc7fa"/>
<rect x="39" y="15" width="1" height="1" fill="#a8c4fb"/>
<rect x="40" y="15" width="1" height="1" fill="#bcd1f6"/>
<rect x="0" y="16" width="1" height="1" fill="#f5b49a"/>
<rect x="1" y="16" width="1" height="1" fill="#f5c2ab"/>
<rect x="2" y="16" width="1" height="1" fill="#f5b59c"/>
<rect x="3" y="16" width="1" height="1" fill="#f4ae93"/>
<rect x="4" y="16" width="1" height="1" fill="#efcbba"/>
<rect x="5" y="16" width="1" height="1" fill="#efcab8"/>
<rect x="6" y="16" width="1" height="1" fill="#f4ac91"/>
<rect x="7" y="16" width="1" height="1" fill="#f4a689"/>
<rect x="8" y="16" width="1" height="1" fill="#f0cab8"/>
<rect x="9" y="16" width="1" height="1" fill="#f4a386"/>
<rect x="10" y="16" width="1" height="1" fill="#ebcec0"/>
<rect x="11" y="16" width="1" height="1" fill="#f5b9a0"/>
<rect x="12" y="16" width="1" height="1" fill="#dedcdb"/>
<rect x="13" y="16" width="1" height="1" fill="#f0c9b6"/>
<rect x="14" y="16" width="1" height="1" fill="#c5d5ef"/>
<rect x="15" y="16" width="1" height="1" fill="#b8d0f9"/>
<rect x="16" y="16" width="1" height="1" fill="#a0befc"/>
<rect x="17" y="16" width="1" height="1" fill="#546fdb"/>
<rect x="29" y="16" width="1" height="1" fill="#b3ccfa"/>
<rect x="38" y="16" width="1" height="1" fill="#a2c0fc"/>
<rect x="39" y="16" width="1" height="1" fill="#9dbcfc"/>
<rect x="40" y="16" width="1" height="1" fill="#c9d6ec"/>
<rect x="0" y="17" width="1" height="1" fill="#f4ad91"/>
<rect x="1" y="17" width="1" height="1" fill="#f4ac90"/>
<rect x="2" y="17" width="1" height="1" fill="#f5bfa8"/>
<rect x="3" y="17" width="1" height="1" fill="#e7d3c9"/>
<rect x="4" y="17" width="1" height="1" fill="#f5b49a"/>
<rect x="5" y="17" width="1" height="1" fill="#f5b499"/>
<rect x="6" y="17" width="1" height="1" fill="#f4ae92"/>
<rect x="7" y="17" width="1" height="1" fill="#f4a487"/>
<rect x="8" y="17" width="1" height="1" fill="#f49a7b"/>
<rect x="9" y="17" width="1" height="1" fill="#f4a68a"/>
<rect x="10" y="17" width="1" height="1" fill="#f5c4ad"/>
<rect x="11" y="17" width="1" height="1" fill="#f4a487"/>
<rect x="12" y="17" width="1" height="1" fill="#e1d9d4"/>
<rect x="13" y="17" width="1" height="1" fill="#d5dae3"/>
<rect x="14" y="17" width="1" height="1" fill="#a5c2fb"/>
<rect x="15" y="17" width="1" height="1" fill="#bdd2f5"/>
<rect x="16" y="17" width="1" height="1" fill="#799bf5"/>
<rect x="17" y="17" width="1" height="1" fill="#7b9cf5"/>
<rect x="39" y="17" width="1" height="1" fill="#aac6fb"/>
<rect x="40" y="17" width="1" height="1" fill="#9cbbfc"/>
<rect x="0" y="18" width="1" height="1" fill="#f4ac91"/>
<rect x="1" y="18" width="1" height="1" fill="#f5c4ad"/>
<rect x="2" y="18" width="1" height="1" fill="#e16853"/>
<rect x="3" y="18" width="1" height="1" fill="#f49f81"/>
<rect x="4" y="18" width="1" height="1" fill="#e4d6cf"/>
<rect x="5" y="18" width="1" height="1" fill="#e87b62"/>
<rect x="6" y="18" width="1" height="1" fill="#ea8066"/>
<rect x="7" y="18" width="1" height="1" fill="#e2d8d3"/>
<rect x="8" y="18" width="1" height="1" fill="#ea8066"/>
<rect x="9" y="18" width="1" height="1" fill="#f5b79e"/>
<rect x="10" y="18" width="1" height="1" fill="#f5bfa7"/>
<rect x="11" y="18" width="1" height="1" fill="#f4a689"/>
<rect x="12" y="18" width="1" height="1" fill="#e9d1c6"/>
<rect x="13" y="18" width="1" height="1" fill="#c6d5ee"/>
<rect x="14" y="18" width="1" height="1" fill="#9bbbfc"/>
<rect x="15" y="18" width="1" height="1" fill="#c4d4f0"/>
<rect x="16" y="18" width="1" height="1" fill="#7d9ef6"/>
<rect x="17" y="18" width="1" height="1" fill="#86a8fb"/>
<rect x="40" y="18" width="1" height="1" fill="#c2d3f2"/>
<rect x="0" y="19" width="1" height="1" fill="#f5bca3"/>
<rect x="1" y="19" width="1" height="1" fill="#f4aa8e"/>
<rect x="2" y="19" width="1" height="1" fill="#e77961"/>
<rect x="3" y="19" width="1" height="1" fill="#f08e72"/>
<rect x="4" y="19" width="1" height="1" fill="#e5735c"/>
<rect x="5" y="19" width="1" height="1" fill="#f19174"/>
<rect x="6" y="19" width="1" height="1" fill="#f4aa8e"/>
<rect x="7" y="19" width="1" height="1" fill="#f5b197"/>
<rect x="8" y="19" width="1" height="1" fill="#e7d2c8"/>
<rect x="9" y="19" width="1" height="1" fill="#f4a98d"/>
<rect x="10" y="19" width="1" height="1" fill="#f4a588"/>
<rect x="11" y="19" width="1" height="1" fill="#e3d6d0"/>
<rect x="12" y="19" width="1" height="1" fill="#e3d7d2"/>
<rect x="13" y="19" width="1" height="1" fill="#c7d5ee"/>
<rect x="14" y="19" width="1" height="1" fill="#a7c3fb"/>
<rect x="15" y="19" width="1" height="1" fill="#c0d3f3"/>
<rect x="16" y="19" width="1" height="1" fill="#81a3f8"/>
<rect x="17" y="19" width="1" height="1" fill="#6788ed"/>
<rect x="37" y="19" width="1" height="1" fill="#b2ccfa"/>
<rect x="39" y="19" width="1" height="1" fill="#9ebcfc"/>
<rect x="40" y="19" width="1" height="1" fill="#a3c1fb"/>
<rect x="0" y="20" width="1" height="1" fill="#f5bfa7"/>
<rect x="1" y="20" width="1" height="1" fill="#f5bfa6"/>
<rect x="2" y="20" width="1" height="1" fill="#e6755e"/>
<rect x="3" y="20" width="1" height="1" fill="#e16853"/>
<rect x="4" y="20" width="1" height="1" fill="#e16853"/>
<rect x="5" y="20" width="1" height="1" fill="#e46f59"/>
<rect x="6" y="20" width="1" height="1" fill="#f08f72"/>
<rect x="7" y="20" width="1" height="1" fill="#e06752"/>
<rect x="8" y="20" width="1" height="1" fill="#f19376"/>
<rect x="9" y="20" width="1" height="1" fill="#f5b89f"/>
<rect x="10" y="20" width="1" height="1" fill="#f5b69d"/>
<rect x="11" y="20" width="1" height="1" fill="#f5c0a8"/>
<rect x="12" y="20" width="1" height="1" fill="#dfdbd9"/>
<rect x="13" y="20" width="1" height="1" fill="#e7d2c8"/>
<rect x="14" y="20" width="1" height="1" fill="#b5cef9"/>
<rect x="15" y="20" width="1" height="1" fill="#c5d5ef"/>
<rect x="16" y="20" width="1" height="1" fill="#799af5"/>
<rect x="17" y="20" width="1" height="1" fill="#6181e9"/>
<rect x="37" y="20" width="1" height="1" fill="#c8d6ed"/>
<rect x="39" y="20" width="1" height="1" fill="#a6c2fb"/>
<rect x="40" y="20" width="1" height="1" fill="#90b2fe"/>
<rect x="0" y="21" width="1" height="1" fill="#d3dae4"/>
<rect x="1" y="21" width="1" height="1" fill="#eecbbb"/>
<rect x="2" y="21" width="1" height="1" fill="#e7d3c9"/>
<rect x="3" y="21" width="1" height="1" fill="#f5c3ab"/>
<rect x="4" y="21" width="1" height="1" fill="#f5bfa7"/>
<rect x="5" y="21" width="1" height="1" fill="#e8d1c6"/>
<rect x="6" y="21" width="1" height="1" fill="#f5b89f"/>
<rect x="7" y="21" width="1" height="1" fill="#e2d8d3"/>
<rect x="8" y="21" width="1" height="1" fill="#f5b399"/>
<rect x="9" y="21" width="1" height="1" fill="#e8d1c7"/>
<rect x="10" y="21" width="1" height="1" fill="#f5baa1"/>
<rect x="11" y="21" width="1" height="1" fill="#edccbd"/>
<rect x="12" y="21" width="1" height="1" fill="#c5d5ef"/>
<rect x="13" y="21" width="1" height="1" fill="#e0d9d6"/>
<rect x="14" y="21" width="1" height="1" fill="#adc8fa"/>
<rect x="15" y="21" width="1" height="1" fill="#bcd1f6"/>
<rect x="16" y="21" width="1" height="1" fill="#a5c2fb"/>
<rect x="17" y="21" width="1" height="1" fill="#6180e9"/>
<rect x="22" y="21" width="1" height="1" fill="#6b8bee"/>
<rect x="37" y="21" width="1" height="1" fill="#c8d6ed"/>
<rect x="38" y="21" width="1" height="1" fill="#afcafa"/>
<rect x="40" y="21" width="1" height="1" fill="#aec8fa"/>
<rect x="0" y="22" width="1" height="1" fill="#dedcdb"/>
<rect x="1" y="22" width="1" height="1" fill="#f4c5af"/>
<rect x="2" y="22" width="1" height="1" fill="#f5bba3"/>
<rect x="3" y="22" width="1" height="1" fill="#f5b298"/>
<rect x="4" y="22" width="1" height="1" fill="#f5b69d"/>
<rect x="5" y="22" width="1" height="1" fill="#f5b59b"/>
<rect x="6" y="22" width="1" height="1" fill="#f5b69c"/>
<rect x="7" y="22" width="1" height="1" fill="#f5b095"/>
<rect x="8" y="22" width="1" height="1" fill="#f5c4ae"/>
<rect x="9" y="22" width="1" height="1" fill="#f5b79e"/>
<rect x="10" y="22" width="1" height="1" fill="#f2c7b3"/>
<rect x="11" y="22" width="1" height="1" fill="#f5baa1"/>
<rect x="12" y="22" width="1" height="1" fill="#e8d1c7"/>
<rect x="13" y="22" width="1" height="1" fill="#cdd8e9"/>
<rect x="14" y="22" width="1" height="1" fill="#97b8fd"/>
<rect x="15" y="22" width="1" height="1" fill="#9ab9fd"/>
<rect x="16" y="22" width="1" height="1" fill="#a7c4fb"/>
<rect x="17" y="22" width="1" height="1" fill="#5e7de6"/>
<rect x="20" y="22" width="1" height="1" fill="#6b8bee"/>
<rect x="37" y="22" width="1" height="1" fill="#a1bffc"/>
<rect x="39" y="22" width="1" height="1" fill="#9abafc"/>
<rect x="40" y="22" width="1" height="1" fill="#a5c2fb"/>
<rect x="0" y="23" width="1" height="1" fill="#e8d1c7"/>
<rect x="1" y="23" width="1" height="1" fill="#ead0c4"/>
<rect x="2" y="23" width="1" height="1" fill="#f5b9a0"/>
<rect x="3" y="23" width="1" height="1" fill="#e8d1c6"/>
<rect x="4" y="23" width="1" height="1" fill="#f5c2aa"/>
<rect x="5" y="23" width="1" height="1" fill="#e8d2c8"/>
<rect x="6" y="23" width="1" height="1" fill="#eccec0"/>
<rect x="7" y="23" width="1" height="1" fill="#edccbd"/>
<rect x="8" y="23" width="1" height="1" fill="#f5c1aa"/>
<rect x="9" y="23" width="1" height="1" fill="#eccec0"/>
<rect x="10" y="23" width="1" height="1" fill="#ebcec1"/>
<rect x="11" y="23" width="1" height="1" fill="#efcab9"/>
<rect x="12" y="23" width="1" height="1" fill="#f5b79d"/>
<rect x="13" y="23" width="1" height="1" fill="#cdd7e9"/>
<rect x="14" y="23" width="1" height="1" fill="#c1d3f2"/>
<rect x="15" y="23" width="1" height="1" fill="#bcd2f6"/>
<rect x="16" y="23" width="1" height="1" fill="#bed2f5"/>
<rect x="17" y="23" width="1" height="1" fill="#9bbbfc"/>
<rect x="18" y="23" width="1" height="1" fill="#6e8eef"/>
<rect x="38" y="23" width="1" height="1" fill="#c7d5ee"/>
<rect x="40" y="23" width="1" height="1" fill="#b8d0f9"/>
<rect x="0" y="24" width="1" height="1" fill="#f4c5b0"/>
<rect x="1" y="24" width="1" height="1" fill="#e8d2c7"/>
<rect x="2" y="24" width="1" height="1" fill="#f29477"/>
<rect x="3" y="24" width="1" height="1" fill="#f5c4ad"/>
<rect x="4" y="24" width="1" height="1" fill="#eecbbb"/>
<rect x="5" y="24" width="1" height="1" fill="#f49d7e"/>
<rect x="6" y="24" width="1" height="1" fill="#e7d3c9"/>
<rect x="7" y="24" width="1" height="1" fill="#f1c9b6"/>
<rect x="8" y="24" width="1" height="1" fill="#f5bca3"/>
<rect x="9" y="24" width="1" height="1" fill="#ebcfc1"/>
<rect x="10" y="24" width="1" height="1" fill="#efcab8"/>
<rect x="11" y="24" width="1" height="1" fill="#f5b49a"/>
<rect x="12" y="24" width="1" height="1" fill="#f5bfa7"/>
<rect x="13" y="24" width="1" height="1" fill="#e4d5ce"/>
<rect x="14" y="24" width="1" height="1" fill="#c2d3f2"/>
<rect x="15" y="24" width="1" height="1" fill="#a7c4fb"/>
<rect x="16" y="24" width="1" height="1" fill="#8fb2fe"/>
<rect x="17" y="24" width="1" height="1" fill="#b6cef9"/>
<rect x="18" y="24" width="1" height="1" fill="#4e66d4"/>
<rect x="28" y="24" width="1" height="1" fill="#5a77e2"/>
<rect x="37" y="24" width="1" height="1" fill="#c7d5ee"/>
<rect x="38" y="24" width="1" height="1" fill="#94b5fd"/>
<rect x="39" y="24" width="1" height="1" fill="#a3c0fb"/>
<rect x="40" y="24" width="1" height="1" fill="#c6d5ee"/>
<rect x="0" y="25" width="1" height="1" fill="#f5b59c"/>
<rect x="1" y="25" width="1" height="1" fill="#e9d1c5"/>
<rect x="2" y="25" width="1" height="1" fill="#f5bba3"/>
<rect x="3" y="25" width="1" height="1" fill="#e6d3ca"/>
<rect x="4" y="25" width="1" height="1" fill="#f5b095"/>
<rect x="5" y="25" width="1" height="1" fill="#f5b59b"/>
<rect x="6" y="25" width="1" height="1" fill="#f5b89f"/>
<rect x="7" y="25" width="1" height="1" fill="#f5b298"/>
<rect x="8" y="25" width="1" height="1" fill="#eacfc2"/>
<rect x="9" y="25" width="1" height="1" fill="#f5c4ad"/>
<rect x="10" y="25" width="1" height="1" fill="#ebcfc1"/>
<rect x="11" y="25" width="1" height="1" fill="#efcab9"/>
<rect x="12" y="25" width="1" height="1" fill="#e9d1c6"/>
<rect x="13" y="25" width="1" height="1" fill="#c4d4f0"/>
<rect x="14" y="25" width="1" height="1" fill="#ccd7ea"/>
<rect x="15" y="25" width="1" height="1" fill="#b2ccfa"/>
<rect x="16" y="25" width="1" height="1" fill="#9cbbfc"/>
<rect x="17" y="25" width="1" height="1" fill="#b1cbfa"/>
<rect x="18" y="25" width="1" height="1" fill="#546edb"/>
<rect x="38" y="25" width="1" height="1" fill="#bcd1f6"/>
<rect x="40" y="25" width="1" height="1" fill="#92b4fd"/>
<rect x="0" y="26" width="1" height="1" fill="#e6d4cc"/>
<rect x="1" y="26" width="1" height="1" fill="#efcab8"/>
<rect x="2" y="26" width="1" height="1" fill="#d8dbe1"/>
<rect x="3" y="26" width="1" height="1" fill="#eccdbf"/>
<rect x="4" y="26" width="1" height="1" fill="#c9d6ec"/>
<rect x="5" y="26" width="1" height="1" fill="#dadcdf"/>
<rect x="6" y="26" width="1" height="1" fill="#d5dae3"/>
<rect x="7" y="26" width="1" height="1" fill="#bdd2f5"/>
<rect x="8" y="26" width="1" height="1" fill="#eacfc3"/>
<rect x="9" y="26" width="1" height="1" fill="#e4d6d0"/>
<rect x="10" y="26" width="1" height="1" fill="#c7d5ed"/>
<rect x="11" y="26" width="1" height="1" fill="#dddddd"/>
<rect x="12" y="26" width="1" height="1" fill="#a6c3fb"/>
<rect x="13" y="26" width="1" height="1" fill="#abc6fa"/>
<rect x="14" y="26" width="1" height="1" fill="#b5cef9"/>
<rect x="15" y="26" width="1" height="1" fill="#7698f3"/>
<rect x="16" y="26" width="1" height="1" fill="#799af5"/>
<rect x="37" y="26" width="1" height="1" fill="#a2c0fc"/>
<rect x="39" y="26" width="1" height="1" fill="#e7d3ca"/>
<rect x="40" y="26" width="1" height="1" fill="#bad1f7"/>
<rect x="0" y="27" width="1" height="1" fill="#ebcec1"/>
<rect x="1" y="27" width="1" height="1" fill="#dfdbda"/>
<rect x="2" y="27" width="1" height="1" fill="#e2d8d3"/>
<rect x="3" y="27" width="1" height="1" fill="#e8d1c6"/>
<rect x="4" y="27" width="1" height="1" fill="#e1d9d5"/>
<rect x="5" y="27" width="1" height="1" fill="#ced8e8"/>
<rect x="6" y="27" width="1" height="1" fill="#e4d5ce"/>
<rect x="7" y="27" width="1" height="1" fill="#c1d3f2"/>
<rect x="8" y="27" width="1" height="1" fill="#c4d4f0"/>
<rect x="9" y="27" width="1" height="1" fill="#c1d3f2"/>
<rect x="10" y="27" width="1" height="1" fill="#dfdbd8"/>
<rect x="11" y="27" width="1" height="1" fill="#e0dad6"/>
<rect x="12" y="27" width="1" height="1" fill="#9fbdfc"/>
<rect x="13" y="27" width="1" height="1" fill="#adc8fa"/>
<rect x="14" y="27" width="1" height="1" fill="#c6d5ef"/>
<rect x="15" y="27" width="1" height="1" fill="#88abfc"/>
<rect x="16" y="27" width="1" height="1" fill="#698aed"/>
<rect x="19" y="27" width="1" height="1" fill="#7596f3"/>
<rect x="23" y="27" width="1" height="1" fill="#6080e8"/>
<rect x="38" y="27" width="1" height="1" fill="#bad1f7"/>
<rect x="39" y="27" width="1" height="1" fill="#b6cef9"/>
<rect x="40" y="27" width="1" height="1" fill="#a2bffc"/>
<rect x="0" y="28" width="1" height="1" fill="#7293f1"/>
<rect x="1" y="28" width="1" height="1" fill="#6d8eef"/>
<rect x="2" y="28" width="1" height="1" fill="#9fbdfc"/>
<rect x="3" y="28" width="1" height="1" fill="#b1cafa"/>
<rect x="4" y="28" width="1" height="1" fill="#9cbbfc"/>
<rect x="5" y="28" width="1" height="1" fill="#cdd7e9"/>
<rect x="6" y="28" width="1" height="1" fill="#b2cbfa"/>
<rect x="7" y="28" width="1" height="1" fill="#b7cff9"/>
<rect x="8" y="28" width="1" height="1" fill="#bed2f4"/>
<rect x="9" y="28" width="1" height="1" fill="#c5d4ef"/>
<rect x="10" y="28" width="1" height="1" fill="#c8d5ed"/>
<rect x="11" y="28" width="1" height="1" fill="#afc9fa"/>
<rect x="12" y="28" width="1" height="1" fill="#acc7fa"/>
<rect x="13" y="28" width="1" height="1" fill="#b1cbfa"/>
<rect x="14" y="28" width="1" height="1" fill="#98b8fd"/>
<rect x="15" y="28" width="1" height="1" fill="#7d9ef6"/>
<rect x="16" y="28" width="1" height="1" fill="#8fb2fe"/>
<rect x="39" y="28" width="1" height="1" fill="#b9d0f8"/>
<rect x="40" y="28" width="1" height="1" fill="#cdd7e9"/>
<rect x="1" y="29" width="1" height="1" fill="#c1d3f2"/>
<rect x="2" y="29" width="1" height="1" fill="#b7cff9"/>
<rect x="3" y="29" width="1" height="1" fill="#afc9fa"/>
<rect x="4" y="29" width="1" height="1" fill="#acc7fa"/>
<rect x="5" y="29" width="1" height="1" fill="#87aafb"/>
<rect x="6" y="29" width="1" height="1" fill="#9bbafc"/>
<rect x="7" y="29" width="1" height="1" fill="#9bbbfc"/>
<rect x="8" y="29" width="1" height="1" fill="#b5cef9"/>
<rect x="9" y="29" width="1" height="1" fill="#94b5fd"/>
<rect x="10" y="29" width="1" height="1" fill="#a4c1fb"/>
<rect x="11" y="29" width="1" height="1" fill="#adc7fa"/>
<rect x="12" y="29" width="1" height="1" fill="#bdd2f5"/>
<rect x="13" y="29" width="1" height="1" fill="#bfd2f4"/>
<rect x="14" y="29" width="1" height="1" fill="#b3ccfa"/>
<rect x="15" y="29" width="1" height="1" fill="#6787ec"/>
<rect x="25" y="29" width="1" height="1" fill="#6080e8"/>
<rect x="39" y="29" width="1" height="1" fill="#90b2fe"/>
<rect x="40" y="29" width="1" height="1" fill="#a1bffc"/>
<rect x="1" y="30" width="1" height="1" fill="#b6cef9"/>
<rect x="2" y="30" width="1" height="1" fill="#bdd2f5"/>
<rect x="3" y="30" width="1" height="1" fill="#a8c4fb"/>
<rect x="4" y="30" width="1" height="1" fill="#9cbbfc"/>
<rect x="5" y="30" width="1" height="1" fill="#a5c2fb"/>
<rect x="6" y="30" width="1" height="1" fill="#8fb1fe"/>
<rect x="7" y="30" width="1" height="1" fill="#b9d0f8"/>
<rect x="8" y="30" width="1" height="1" fill="#c8d5ed"/>
<rect x="9" y="30" width="1" height="1" fill="#adc8fa"/>
<rect x="10" y="30" width="1" height="1" fill="#b9d0f8"/>
<rect x="11" y="30" width="1" height="1" fill="#c0d3f3"/>
<rect x="12" y="30" width="1" height="1" fill="#99b9fd"/>
<rect x="13" y="30" width="1" height="1" fill="#c5d5ef"/>
<rect x="14" y="30" width="1" height="1" fill="#84a6fa"/>
<rect x="17" y="30" width="1" height="1" fill="#7c9ef6"/>
<rect x="37" y="30" width="1" height="1" fill="#c3d4f1"/>
<rect x="38" y="30" width="1" height="1" fill="#a1bffc"/>
<rect x="39" y="30" width="1" height="1" fill="#9ebdfc"/>
<rect x="40" y="30" width="1" height="1" fill="#b3ccfa"/>
<rect x="4" y="31" width="1" height="1" fill="#7a9cf5"/>
<rect x="5" y="31" width="1" height="1" fill="#7394f2"/>
<rect x="6" y="31" width="1" height="1" fill="#7d9ff7"/>
<rect x="9" y="31" width="1" height="1" fill="#92b4fd"/>
<rect x="10" y="31" width="1" height="1" fill="#99b9fd"/>
<rect x="11" y="31" width="1" height="1" fill="#82a5f9"/>
<rect x="12" y="31" width="1" height="1" fill="#a8c4fb"/>
<rect x="13" y="31" width="1" height="1" fill="#84a7fa"/>
<rect x="14" y="31" width="1" height="1" fill="#5e7de6"/>
<rect x="40" y="31" width="1" height="1" fill="#adc8fa"/>
<rect x="11" y="32" width="1" height="1" fill="#7c9ef6"/>
<rect x="12" y="32" width="1" height="1" fill="#83a5f9"/>
<rect x="16" y="32" width="1" height="1" fill="#7596f3"/>
<rect x="40" y="32" width="1" height="1" fill="#99b9fd"/>
<rect x="8" y="33" width="1" height="1" fill="#7596f3"/>
<rect x="15" y="33" width="1" height="1" fill="#7c9ef6"/>
<rect x="13" y="34" width="1" height="1" fill="#6b8bee"/>
</svg>
<div class="t" style="left:524.1px;width:20px;text-align:right;top:261px;font-size:4.4px;color:#333">7482</div>
<div class="t" style="left:524.1px;width:20px;text-align:right;top:270px;font-size:4.4px;color:#333">6536</div>
<div class="t" style="left:524.1px;width:20px;text-align:right;top:279px;font-size:4.4px;color:#333">4959</div>
<div class="t" style="left:524.1px;width:20px;text-align:right;top:288px;font-size:4.4px;color:#333">3725</div>
<div class="t" style="left:524.1px;width:20px;text-align:right;top:297px;font-size:4.4px;color:#333">2761</div>
<div class="t" style="left:524.1px;width:20px;text-align:right;top:306px;font-size:4.4px;color:#333">2007</div>
<div class="t" style="left:524.1px;width:20px;text-align:right;top:315px;font-size:4.4px;color:#333">1417</div>
<div class="t" style="left:524.1px;width:20px;text-align:right;top:323px;font-size:4.4px;color:#333">956</div>
<div class="t" style="left:524.1px;width:20px;text-align:right;top:332px;font-size:4.4px;color:#333">595</div>
<div class="t" style="left:524.1px;width:20px;text-align:right;top:341px;font-size:4.4px;color:#333">313</div>
<div class="t" style="left:524.1px;width:20px;text-align:right;top:350px;font-size:4.4px;color:#333">92</div>
<div class="t" style="left:524.1px;width:20px;text-align:right;top:359px;font-size:4.4px;color:#333">45</div>
<div class="t" style="left:536.3px;width:20px;text-align:center;top:363px;font-size:4.4px;color:#333">0.0</div>
<div class="t" style="left:547.1px;width:20px;text-align:center;top:363px;font-size:4.4px;color:#333">0.11</div>
<div class="t" style="left:557.8px;width:20px;text-align:center;top:363px;font-size:4.4px;color:#333">0.22</div>
<div class="t" style="left:568.6px;width:20px;text-align:center;top:363px;font-size:4.4px;color:#333">0.33</div>
<div class="t" style="left:579.4px;width:20px;text-align:center;top:363px;font-size:4.4px;color:#333">0.44</div>
<div class="t" style="left:590.1px;width:20px;text-align:center;top:363px;font-size:4.4px;color:#333">0.55</div>
<div class="t" style="left:600.9px;width:20px;text-align:center;top:363px;font-size:4.4px;color:#333">0.66</div>
<div class="t" style="left:611.7px;width:20px;text-align:center;top:363px;font-size:4.4px;color:#333">0.77</div>
<div class="t" style="left:622.4px;width:20px;text-align:center;top:363px;font-size:4.4px;color:#333">0.88</div>
<div class="t" style="left:633.2px;width:20px;text-align:center;top:363px;font-size:4.4px;color:#333">0.99</div>
<div class="t" style="left:575.3px;width:40px;text-align:center;top:368px;font-size:4.6px;color:#333">Time [sec]</div>
<div class="t" style="left:511.4px;width:40px;text-align:center;top:309px;font-size:4px;color:#333;transform:rotate(-90deg)">Frequency [Hz]</div>
<div class="t b" style="left:448.7px;top:393px;font-size:6.54px;color:#3a3b6a">Processed features</div>
<svg class="a" style="left:514px;top:392px" width="7" height="7" viewBox="0 0 7 7"><rect x="0.5" y="1.8" width="3.8" height="4.6" rx="0.5" fill="none" stroke="#c8ccd8" stroke-width="0.7"/><rect x="2.3" y="0.5" width="3.8" height="4.6" rx="0.5" fill="#fff" stroke="#c8ccd8" stroke-width="0.7"/></svg>
<div class="a" style="left:438px;top:404.2px;width:302px;height:0.6px;background:#eef0f4"></div>
<div class="t m" style="left:448.7px;top:418px;font-size:5.25px;letter-spacing:0.03px;color:#50557c">0.0000, 0.0000, 0.0000, 0.0000, 0.0000, 0.0000, 0.0039, 0.0000, 0.0000, 0.0000, 0.0156,…</div>

<!-- help fab -->
<div class="a" style="left:724.9px;top:421px;width:21px;height:21px;border-radius:50%;background:#8598ac"></div>
<svg class="a" style="left:731px;top:427.1px" width="9" height="9" viewBox="0 0 9 9"><circle cx="4.4" cy="4.4" r="3.6" fill="#fff"/><path d="M3.3 3.5 Q3.3 2.3 4.4 2.3 Q5.5 2.3 5.5 3.3 Q5.5 3.9 4.85 4.2 Q4.4 4.45 4.4 5.1" fill="none" stroke="#8598ac" stroke-width="0.8"/><circle cx="4.4" cy="6.2" r="0.5" fill="#8598ac"/></svg>
<div class="a" style="left:0;top:442px;width:5px;height:7px;z-index:3;background:radial-gradient(circle at 9px -3px, rgba(165,165,165,0) 8.6px, rgba(165,165,165,0.7) 10.5px)"></div>
</body></html>
